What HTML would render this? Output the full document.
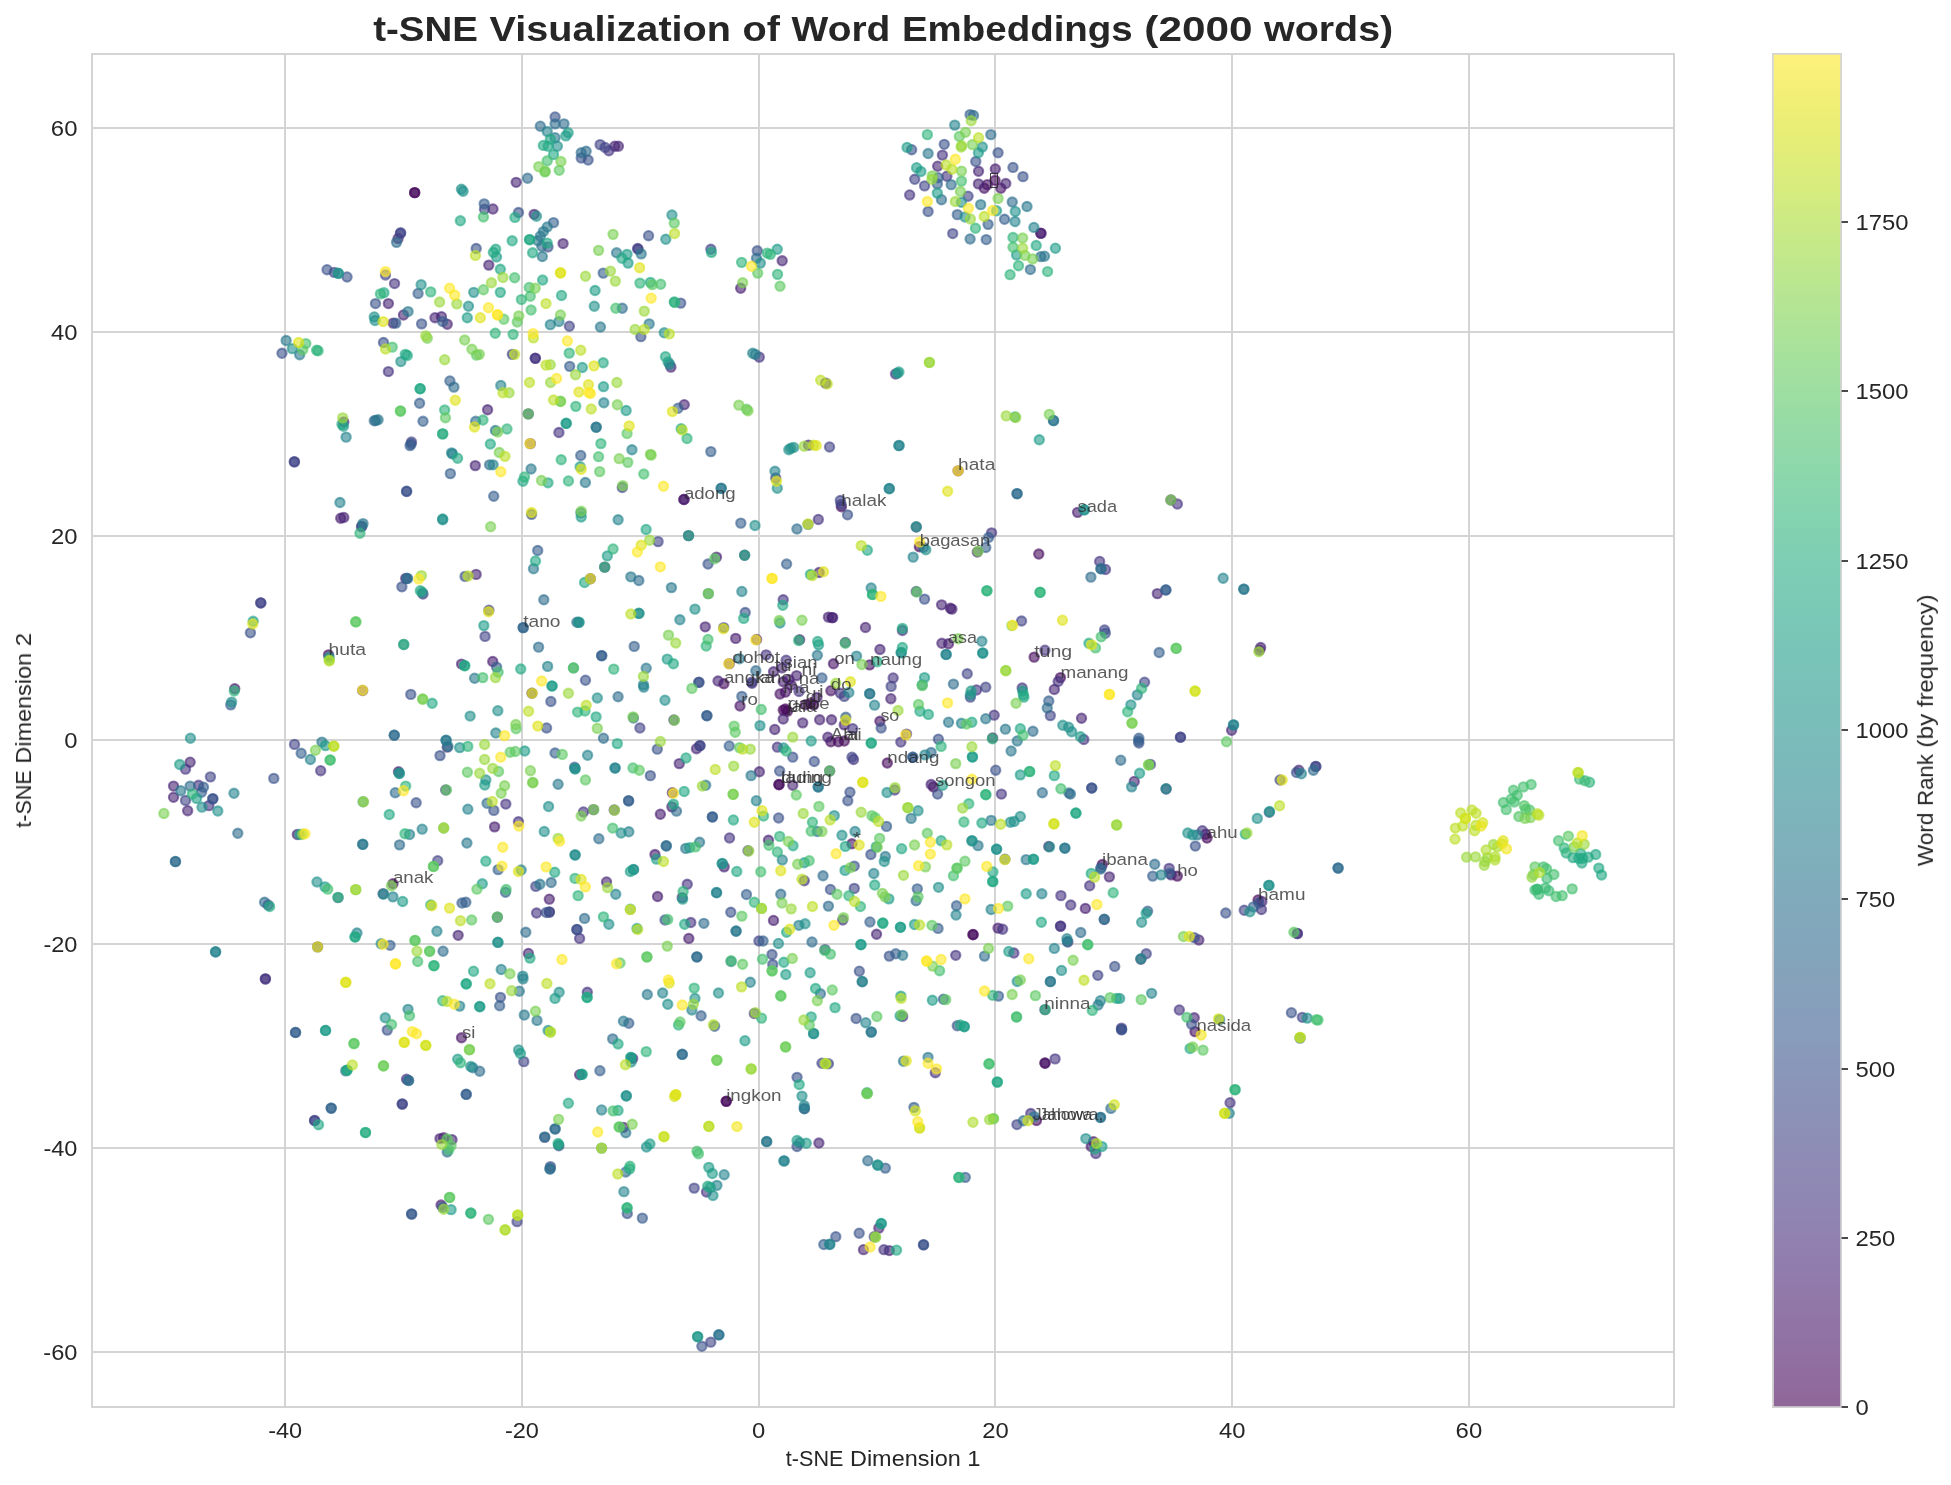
<!DOCTYPE html>
<html lang="en"><head><meta charset="utf-8"><title>t-SNE Visualization of Word Embeddings (2000 words)</title>
<style>html,body{margin:0;padding:0;background:#fff}body{width:1951px;height:1485px;overflow:hidden}svg{display:block}text{font-family:"Liberation Sans",sans-serif;fill:#262626}</style></head><body>
<svg width="1951" height="1485" viewBox="0 0 1951 1485">
<rect width="1951" height="1485" fill="#fff"/>
<defs><filter id="nf" x="0" y="0" width="1" height="1"><feOffset dx="0" dy="0"/></filter><linearGradient id="vg" x1="0" y1="1" x2="0" y2="0"><stop offset="0.0000" stop-color="#8f6798"/><stop offset="0.0312" stop-color="#916ea0"/><stop offset="0.0625" stop-color="#9174a6"/><stop offset="0.0938" stop-color="#917bac"/><stop offset="0.1250" stop-color="#9181b0"/><stop offset="0.1562" stop-color="#8f87b3"/><stop offset="0.1875" stop-color="#8e8cb6"/><stop offset="0.2188" stop-color="#8b92b8"/><stop offset="0.2500" stop-color="#8997b9"/><stop offset="0.2812" stop-color="#879dbb"/><stop offset="0.3125" stop-color="#85a1bb"/><stop offset="0.3438" stop-color="#82a6bb"/><stop offset="0.3750" stop-color="#80aabb"/><stop offset="0.4062" stop-color="#7fafbb"/><stop offset="0.4375" stop-color="#7db4bb"/><stop offset="0.4688" stop-color="#7bb8bb"/><stop offset="0.5000" stop-color="#7abdba"/><stop offset="0.5312" stop-color="#79c1b9"/><stop offset="0.5625" stop-color="#79c5b8"/><stop offset="0.5938" stop-color="#7acab6"/><stop offset="0.6250" stop-color="#7dceb3"/><stop offset="0.6562" stop-color="#83d3b0"/><stop offset="0.6875" stop-color="#8bd7ac"/><stop offset="0.7188" stop-color="#94daa7"/><stop offset="0.7500" stop-color="#9ddea1"/><stop offset="0.7812" stop-color="#a8e29b"/><stop offset="0.8125" stop-color="#b3e594"/><stop offset="0.8438" stop-color="#bfe88c"/><stop offset="0.8750" stop-color="#ccea84"/><stop offset="0.9062" stop-color="#d9ec7c"/><stop offset="0.9375" stop-color="#e6ee76"/><stop offset="0.9688" stop-color="#f2ef76"/><stop offset="1.0000" stop-color="#fef17c"/></linearGradient></defs>
<g fill="#d4d4d4"><rect x="284" y="53" width="2" height="1355"/><rect x="521" y="53" width="2" height="1355"/><rect x="758" y="53" width="2" height="1355"/><rect x="994" y="53" width="2" height="1355"/><rect x="1231" y="53" width="2" height="1355"/><rect x="1468" y="53" width="2" height="1355"/><rect x="91" y="1351" width="1584" height="2"/><rect x="91" y="1147" width="1584" height="2"/><rect x="91" y="943" width="1584" height="2"/><rect x="91" y="739" width="1584" height="2"/><rect x="91" y="535" width="1584" height="2"/><rect x="91" y="331" width="1584" height="2"/><rect x="91" y="127" width="1584" height="2"/></g>
<g fill-opacity=".6" stroke-opacity=".6" stroke-width="2.083">
<g fill="#440154" stroke="#440154"><circle cx="414.69" cy="192.65" r="4.658"/></g>
<g fill="#46085c" stroke="#46085c"><circle cx="995" cy="180.34" r="4.658"/><circle cx="683.93" cy="499.45" r="4.658"/><circle cx="841.39" cy="506.68" r="4.658"/><circle cx="958.1" cy="470.83" r="4.658"/><circle cx="919.35" cy="546.68" r="4.658"/><circle cx="328.52" cy="654.85" r="4.658"/><circle cx="887.32" cy="763.01" r="4.658"/><circle cx="785.41" cy="709.03" r="4.658"/><circle cx="787.56" cy="711.19" r="4.658"/><circle cx="783.25" cy="710.11" r="4.658"/><circle cx="392.95" cy="883.79" r="4.658"/><circle cx="778.91" cy="784.55" r="4.658"/><circle cx="1207" cy="838.09" r="4.658"/><circle cx="1102.28" cy="864.56" r="4.658"/><circle cx="1177.32" cy="876.1" r="4.658"/><circle cx="1258.05" cy="899.94" r="4.658"/><circle cx="726.17" cy="1101.19" r="4.658"/><circle cx="726.32" cy="1101.35" r="4.658"/></g>
<g fill="#460b5e" stroke="#460b5e"><circle cx="414.69" cy="192.65" r="4.658"/><circle cx="723.86" cy="683.77" r="4.658"/><circle cx="1038.78" cy="554.07" r="4.658"/><circle cx="1034.16" cy="657.15" r="4.658"/><circle cx="830.88" cy="741.78" r="4.658"/><circle cx="838.42" cy="741.78" r="4.658"/><circle cx="844.26" cy="741.01" r="4.658"/><circle cx="810.52" cy="703.29" r="4.658"/><circle cx="813.75" cy="705.08" r="4.658"/><circle cx="805.5" cy="704.73" r="4.658"/><circle cx="1060.46" cy="677.62" r="4.658"/><circle cx="779.06" cy="784.7" r="4.658"/><circle cx="933.45" cy="786.86" r="4.658"/><circle cx="972.96" cy="934.56" r="4.658"/><circle cx="973.12" cy="934.72" r="4.658"/><circle cx="1036.47" cy="1120.43" r="4.658"/><circle cx="1195" cy="1031.65" r="4.658"/></g>
<g fill="#471365" stroke="#471365"><circle cx="987.32" cy="184.65" r="4.658"/><circle cx="984.24" cy="188.19" r="4.658"/><circle cx="1000.85" cy="188.19" r="4.658"/><circle cx="740.01" cy="705.93" r="4.658"/><circle cx="833.5" cy="663.77" r="4.658"/><circle cx="869.63" cy="664.85" r="4.658"/><circle cx="830.88" cy="690.69" r="4.658"/><circle cx="879.93" cy="721.31" r="4.658"/><circle cx="780.02" cy="693.96" r="4.658"/><circle cx="785.41" cy="692.16" r="4.658"/><circle cx="851.95" cy="843.79" r="4.658"/><circle cx="1205.77" cy="834.25" r="4.658"/><circle cx="461.53" cy="1037.8" r="4.658"/><circle cx="1044.93" cy="1063.04" r="4.658"/><circle cx="1045.08" cy="1063.19" r="4.658"/></g>
<g fill="#481d6f" stroke="#481d6f"><circle cx="740.67" cy="288.2" r="4.658"/><circle cx="995.31" cy="168.96" r="4.658"/><circle cx="1040.83" cy="233.12" r="4.658"/><circle cx="1040.98" cy="233.42" r="4.658"/><circle cx="340.72" cy="518.22" r="4.658"/><circle cx="683.93" cy="499.45" r="4.658"/><circle cx="1077.58" cy="512.37" r="4.658"/><circle cx="234.73" cy="688.69" r="4.658"/><circle cx="735.7" cy="638.38" r="4.658"/><circle cx="492.75" cy="661.46" r="4.658"/><circle cx="729.24" cy="663.62" r="4.658"/><circle cx="950.36" cy="608.23" r="4.658"/><circle cx="831.96" cy="617.61" r="4.658"/><circle cx="948.51" cy="643.77" r="4.658"/><circle cx="783.25" cy="681.75" r="4.658"/><circle cx="791.15" cy="684.98" r="4.658"/><circle cx="788.99" cy="679.59" r="4.658"/><circle cx="816.98" cy="697.55" r="4.658"/><circle cx="660.35" cy="814.24" r="4.658"/><circle cx="494.59" cy="826.86" r="4.658"/><circle cx="654.97" cy="854.56" r="4.658"/><circle cx="657.59" cy="896.56" r="4.658"/><circle cx="549.33" cy="899.17" r="4.658"/><circle cx="688.8" cy="938.41" r="4.658"/><circle cx="773.53" cy="920.41" r="4.658"/><circle cx="998.03" cy="928.1" r="4.658"/><circle cx="1171.17" cy="874.86" r="4.658"/><circle cx="1085.37" cy="908.41" r="4.658"/><circle cx="443.7" cy="1137.81" r="4.658"/><circle cx="441.08" cy="1205.05" r="4.658"/><circle cx="1093.52" cy="1141.66" r="4.658"/><circle cx="1091.21" cy="1146.58" r="4.658"/></g>
<g fill="#482475" stroke="#482475"><circle cx="516.17" cy="182.34" r="4.658"/><circle cx="492.95" cy="208.96" r="4.658"/><circle cx="534.16" cy="214.34" r="4.658"/><circle cx="398.08" cy="238.5" r="4.658"/><circle cx="488.8" cy="265.12" r="4.658"/><circle cx="388.39" cy="303.58" r="4.658"/><circle cx="393.16" cy="323.12" r="4.658"/><circle cx="403.46" cy="314.97" r="4.658"/><circle cx="434.98" cy="317.74" r="4.658"/><circle cx="441.44" cy="316.66" r="4.658"/><circle cx="447.28" cy="324.2" r="4.658"/><circle cx="614.74" cy="146.18" r="4.658"/><circle cx="618.43" cy="146.18" r="4.658"/><circle cx="563.07" cy="243.58" r="4.658"/><circle cx="782.19" cy="260.81" r="4.658"/><circle cx="937.65" cy="166.19" r="4.658"/><circle cx="978.55" cy="171.26" r="4.658"/><circle cx="978.4" cy="183.88" r="4.658"/><circle cx="1005.77" cy="183.57" r="4.658"/><circle cx="487.57" cy="409.75" r="4.658"/><circle cx="528.32" cy="413.9" r="4.658"/><circle cx="343.8" cy="422.06" r="4.658"/><circle cx="530.32" cy="443.6" r="4.658"/><circle cx="475.27" cy="465.6" r="4.658"/><circle cx="343.8" cy="517.45" r="4.658"/><circle cx="361.48" cy="526.68" r="4.658"/><circle cx="670.86" cy="367.13" r="4.658"/><circle cx="825.71" cy="383.13" r="4.658"/><circle cx="684.24" cy="404.67" r="4.658"/><circle cx="808.48" cy="445.13" r="4.658"/><circle cx="688.55" cy="535.6" r="4.658"/><circle cx="916.27" cy="526.99" r="4.658"/><circle cx="977.32" cy="552.07" r="4.658"/><circle cx="1170.91" cy="500.06" r="4.658"/><circle cx="362.66" cy="690.54" r="4.658"/><circle cx="398.49" cy="771.78" r="4.658"/><circle cx="447.23" cy="747.16" r="4.658"/><circle cx="190.13" cy="762.24" r="4.658"/><circle cx="405.72" cy="578.38" r="4.658"/><circle cx="604.69" cy="567.15" r="4.658"/><circle cx="716.48" cy="557.14" r="4.658"/><circle cx="744.62" cy="555.3" r="4.658"/><circle cx="476.14" cy="574.38" r="4.658"/><circle cx="590.39" cy="578.68" r="4.658"/><circle cx="705.25" cy="626.84" r="4.658"/><circle cx="461.53" cy="664.08" r="4.658"/><circle cx="718.02" cy="681" r="4.658"/><circle cx="531.96" cy="693.31" r="4.658"/><circle cx="696.49" cy="748.7" r="4.658"/><circle cx="679.27" cy="763.62" r="4.658"/><circle cx="819.2" cy="572.53" r="4.658"/><circle cx="941.6" cy="604.84" r="4.658"/><circle cx="951.9" cy="609.15" r="4.658"/><circle cx="828.42" cy="617.15" r="4.658"/><circle cx="832.73" cy="617.61" r="4.658"/><circle cx="865.48" cy="627.46" r="4.658"/><circle cx="756.61" cy="639.46" r="4.658"/><circle cx="799.67" cy="639.77" r="4.658"/><circle cx="941.9" cy="643.31" r="4.658"/><circle cx="879.93" cy="649.46" r="4.658"/><circle cx="773.53" cy="671.77" r="4.658"/><circle cx="781.98" cy="667.92" r="4.658"/><circle cx="796.59" cy="675.62" r="4.658"/><circle cx="890.85" cy="698.7" r="4.658"/><circle cx="783.21" cy="719" r="4.658"/><circle cx="802.74" cy="722.85" r="4.658"/><circle cx="819.66" cy="719.77" r="4.658"/><circle cx="831.5" cy="719.77" r="4.658"/><circle cx="774.76" cy="729.47" r="4.658"/><circle cx="844.26" cy="724.85" r="4.658"/><circle cx="827.81" cy="737.16" r="4.658"/><circle cx="992.65" cy="737.93" r="4.658"/><circle cx="759.38" cy="771.78" r="4.658"/><circle cx="752.04" cy="683.18" r="4.658"/><circle cx="1157.33" cy="593.61" r="4.658"/><circle cx="1260.66" cy="647.46" r="4.658"/><circle cx="1259.59" cy="650.23" r="4.658"/><circle cx="1054.31" cy="689.46" r="4.658"/><circle cx="1081.52" cy="718.24" r="4.658"/><circle cx="1231.6" cy="730.24" r="4.658"/><circle cx="1298.8" cy="770.24" r="4.658"/><circle cx="173.53" cy="786.09" r="4.658"/><circle cx="173.53" cy="797.32" r="4.658"/><circle cx="187.67" cy="810.71" r="4.658"/><circle cx="297.31" cy="834.55" r="4.658"/><circle cx="672.35" cy="792.7" r="4.658"/><circle cx="671.89" cy="806.86" r="4.658"/><circle cx="724.17" cy="866.86" r="4.658"/><circle cx="606.54" cy="881.94" r="4.658"/><circle cx="458.15" cy="935.33" r="4.658"/><circle cx="528.42" cy="953.49" r="4.658"/><circle cx="792.75" cy="785.32" r="4.658"/><circle cx="931.14" cy="784.55" r="4.658"/><circle cx="768.45" cy="840.25" r="4.658"/><circle cx="1048.77" cy="846.55" r="4.658"/><circle cx="876.55" cy="934.25" r="4.658"/><circle cx="1134.27" cy="781.47" r="4.658"/><circle cx="1166.1" cy="789.01" r="4.658"/><circle cx="1109.36" cy="876.87" r="4.658"/><circle cx="1261.89" cy="901.48" r="4.658"/><circle cx="1198.85" cy="939.95" r="4.658"/><circle cx="1140.88" cy="959.18" r="4.658"/><circle cx="440.01" cy="1138.58" r="4.658"/><circle cx="632.68" cy="1058.42" r="4.658"/><circle cx="579.63" cy="1074.73" r="4.658"/><circle cx="623.45" cy="1127.35" r="4.658"/><circle cx="452" cy="1139.66" r="4.658"/><circle cx="818.89" cy="1143.04" r="4.658"/><circle cx="1194.23" cy="1017.8" r="4.658"/><circle cx="878.86" cy="1228.13" r="4.658"/><circle cx="863.48" cy="1249.67" r="4.658"/><circle cx="889.31" cy="1250.59" r="4.658"/></g>
<g fill="#463480" stroke="#463480"><circle cx="394.54" cy="283.58" r="4.658"/><circle cx="608.89" cy="150.8" r="4.658"/><circle cx="637.65" cy="248.5" r="4.658"/><circle cx="942.42" cy="155.11" r="4.658"/><circle cx="946.87" cy="176.19" r="4.658"/><circle cx="909.66" cy="194.96" r="4.658"/><circle cx="388.39" cy="371.59" r="4.658"/><circle cx="535.24" cy="358.2" r="4.658"/><circle cx="535.39" cy="358.36" r="4.658"/><circle cx="759.28" cy="357.13" r="4.658"/><circle cx="558.92" cy="432.52" r="4.658"/><circle cx="818.33" cy="519.45" r="4.658"/><circle cx="895.52" cy="374.05" r="4.658"/><circle cx="991.62" cy="532.83" r="4.658"/><circle cx="1177.37" cy="504.06" r="4.658"/><circle cx="320.68" cy="770.7" r="4.658"/><circle cx="185.52" cy="769.16" r="4.658"/><circle cx="422.94" cy="594.07" r="4.658"/><circle cx="673.89" cy="719.93" r="4.658"/><circle cx="783.21" cy="599.76" r="4.658"/><circle cx="902.38" cy="630.54" r="4.658"/><circle cx="845.34" cy="642.54" r="4.658"/><circle cx="766.15" cy="654.85" r="4.658"/><circle cx="786.14" cy="660.23" r="4.658"/><circle cx="1044.93" cy="650.23" r="4.658"/><circle cx="840.42" cy="693.31" r="4.658"/><circle cx="893.16" cy="677.92" r="4.658"/><circle cx="976.5" cy="689.93" r="4.658"/><circle cx="1022.17" cy="687.93" r="4.658"/><circle cx="994.18" cy="715.16" r="4.658"/><circle cx="852.72" cy="728.7" r="4.658"/><circle cx="906.54" cy="734.08" r="4.658"/><circle cx="900.85" cy="742.08" r="4.658"/><circle cx="777.37" cy="747.16" r="4.658"/><circle cx="853.49" cy="759.47" r="4.658"/><circle cx="829.65" cy="771.01" r="4.658"/><circle cx="799.04" cy="691.44" r="4.658"/><circle cx="1099.67" cy="561.45" r="4.658"/><circle cx="1105.51" cy="569.45" r="4.658"/><circle cx="1058.15" cy="681.46" r="4.658"/><circle cx="1083.83" cy="739.47" r="4.658"/><circle cx="198.59" cy="785.32" r="4.658"/><circle cx="208.89" cy="805.63" r="4.658"/><circle cx="445.7" cy="789.93" r="4.658"/><circle cx="383.11" cy="893.79" r="4.658"/><circle cx="317.61" cy="946.87" r="4.658"/><circle cx="265.33" cy="978.87" r="4.658"/><circle cx="265.48" cy="979.03" r="4.658"/><circle cx="505.82" cy="804.09" r="4.658"/><circle cx="583.47" cy="811.94" r="4.658"/><circle cx="593.47" cy="809.63" r="4.658"/><circle cx="614.22" cy="809.94" r="4.658"/><circle cx="518.43" cy="821.78" r="4.658"/><circle cx="729.55" cy="837.94" r="4.658"/><circle cx="687.26" cy="884.25" r="4.658"/><circle cx="682.19" cy="897.64" r="4.658"/><circle cx="536.57" cy="913.02" r="4.658"/><circle cx="690.8" cy="922.56" r="4.658"/><circle cx="579.63" cy="938.41" r="4.658"/><circle cx="587.32" cy="992.26" r="4.658"/><circle cx="894.7" cy="789.93" r="4.658"/><circle cx="1001.41" cy="794.09" r="4.658"/><circle cx="804.28" cy="880.71" r="4.658"/><circle cx="842.72" cy="919.95" r="4.658"/><circle cx="1002.64" cy="929.18" r="4.658"/><circle cx="955.74" cy="955.33" r="4.658"/><circle cx="1013.87" cy="953.03" r="4.658"/><circle cx="1202.38" cy="830.71" r="4.658"/><circle cx="1169.17" cy="868.4" r="4.658"/><circle cx="1089.67" cy="885.79" r="4.658"/><circle cx="1261.43" cy="909.48" r="4.658"/><circle cx="1060.92" cy="895.64" r="4.658"/><circle cx="1070.76" cy="905.02" r="4.658"/><circle cx="1104.28" cy="919.48" r="4.658"/><circle cx="1060.46" cy="926.1" r="4.658"/><circle cx="1060.61" cy="926.25" r="4.658"/><circle cx="1067.84" cy="941.95" r="4.658"/><circle cx="1297.26" cy="933.49" r="4.658"/><circle cx="1297.41" cy="933.64" r="4.658"/><circle cx="406.48" cy="1079.19" r="4.658"/><circle cx="544.72" cy="1137.35" r="4.658"/><circle cx="706.48" cy="1191.97" r="4.658"/><circle cx="754.31" cy="1013.49" r="4.658"/><circle cx="902.69" cy="1016.57" r="4.658"/><circle cx="1044.93" cy="1009.65" r="4.658"/><circle cx="935.29" cy="1072.73" r="4.658"/><circle cx="1030.78" cy="1113.5" r="4.658"/><circle cx="1179.32" cy="1009.95" r="4.658"/><circle cx="1121.5" cy="1028.11" r="4.658"/><circle cx="1055.08" cy="1058.88" r="4.658"/><circle cx="1230.06" cy="1102.73" r="4.658"/><circle cx="1095.82" cy="1153.51" r="4.658"/><circle cx="874.25" cy="1236.74" r="4.658"/><circle cx="883.93" cy="1249.67" r="4.658"/></g>
<g fill="#414487" stroke="#414487"><circle cx="484.5" cy="209.27" r="4.658"/><circle cx="400.69" cy="232.81" r="4.658"/><circle cx="400.39" cy="233.42" r="4.658"/><circle cx="334.27" cy="272.35" r="4.658"/><circle cx="385.47" cy="274.96" r="4.658"/><circle cx="600.13" cy="144.65" r="4.658"/><circle cx="605.05" cy="147.42" r="4.658"/><circle cx="638.11" cy="249.27" r="4.658"/><circle cx="569.38" cy="326.2" r="4.658"/><circle cx="710.84" cy="249.27" r="4.658"/><circle cx="914.74" cy="179.26" r="4.658"/><circle cx="924.58" cy="185.88" r="4.658"/><circle cx="968.09" cy="196.19" r="4.658"/><circle cx="952.72" cy="233.58" r="4.658"/><circle cx="512.33" cy="354.36" r="4.658"/><circle cx="411.46" cy="442.06" r="4.658"/><circle cx="294.29" cy="461.75" r="4.658"/><circle cx="294.44" cy="461.9" r="4.658"/><circle cx="622.27" cy="487.45" r="4.658"/><circle cx="829.55" cy="446.98" r="4.658"/><circle cx="775.73" cy="477.91" r="4.658"/><circle cx="840.31" cy="500.52" r="4.658"/><circle cx="841.08" cy="504.37" r="4.658"/><circle cx="658.1" cy="541.6" r="4.658"/><circle cx="260.71" cy="602.84" r="4.658"/><circle cx="260.87" cy="602.99" r="4.658"/><circle cx="294.54" cy="744.39" r="4.658"/><circle cx="210.43" cy="776.86" r="4.658"/><circle cx="488.9" cy="610.23" r="4.658"/><circle cx="485.06" cy="636.38" r="4.658"/><circle cx="723.71" cy="627.61" r="4.658"/><circle cx="639.9" cy="727.93" r="4.658"/><circle cx="699.87" cy="745.62" r="4.658"/><circle cx="700.03" cy="745.78" r="4.658"/><circle cx="916.22" cy="591.45" r="4.658"/><circle cx="1021.55" cy="621" r="4.658"/><circle cx="844.26" cy="696.39" r="4.658"/><circle cx="891.16" cy="686.39" r="4.658"/><circle cx="967.27" cy="673.77" r="4.658"/><circle cx="985.73" cy="687.16" r="4.658"/><circle cx="970.35" cy="697.16" r="4.658"/><circle cx="1050.31" cy="715.62" r="4.658"/><circle cx="851.95" cy="757.16" r="4.658"/><circle cx="751.68" cy="682.11" r="4.658"/><circle cx="1104.59" cy="629.92" r="4.658"/><circle cx="1144.57" cy="682.23" r="4.658"/><circle cx="1180.4" cy="737.16" r="4.658"/><circle cx="1180.55" cy="737.31" r="4.658"/><circle cx="1150.41" cy="764.39" r="4.658"/><circle cx="1315.71" cy="766.39" r="4.658"/><circle cx="1315.86" cy="766.55" r="4.658"/><circle cx="185.52" cy="800.4" r="4.658"/><circle cx="437.7" cy="860.71" r="4.658"/><circle cx="268.09" cy="905.02" r="4.658"/><circle cx="748" cy="850.71" r="4.658"/><circle cx="535.8" cy="886.4" r="4.658"/><circle cx="549.33" cy="911.95" r="4.658"/><circle cx="549.49" cy="912.1" r="4.658"/><circle cx="497.36" cy="917.18" r="4.658"/><circle cx="576.86" cy="929.49" r="4.658"/><circle cx="854.26" cy="888.4" r="4.658"/><circle cx="758.92" cy="941.02" r="4.658"/><circle cx="825.04" cy="949.64" r="4.658"/><circle cx="1280.04" cy="779.93" r="4.658"/><circle cx="1269.27" cy="812.24" r="4.658"/><circle cx="1244.21" cy="910.25" r="4.658"/><circle cx="1146.26" cy="953.8" r="4.658"/><circle cx="1097.82" cy="975.34" r="4.658"/><circle cx="402.18" cy="1103.96" r="4.658"/><circle cx="402.33" cy="1104.12" r="4.658"/><circle cx="314.53" cy="1120.43" r="4.658"/><circle cx="314.69" cy="1120.58" r="4.658"/><circle cx="523.81" cy="1061.65" r="4.658"/><circle cx="558.87" cy="1145.81" r="4.658"/><circle cx="694.18" cy="1188.12" r="4.658"/><circle cx="517.04" cy="1221.67" r="4.658"/><circle cx="821.96" cy="1063.19" r="4.658"/><circle cx="828.42" cy="1063.8" r="4.658"/><circle cx="1016.94" cy="1124.58" r="4.658"/><circle cx="1302.33" cy="1017.34" r="4.658"/><circle cx="710.79" cy="1342.14" r="4.658"/></g>
<g fill="#3b528b" stroke="#3b528b"><circle cx="518.48" cy="212.5" r="4.658"/><circle cx="548" cy="246.96" r="4.658"/><circle cx="476.19" cy="248.5" r="4.658"/><circle cx="327.04" cy="269.73" r="4.658"/><circle cx="347.03" cy="276.97" r="4.658"/><circle cx="375.48" cy="303.58" r="4.658"/><circle cx="421.61" cy="323.89" r="4.658"/><circle cx="555.08" cy="116.95" r="4.658"/><circle cx="581.22" cy="158.03" r="4.658"/><circle cx="588.14" cy="160.03" r="4.658"/><circle cx="648.57" cy="235.73" r="4.658"/><circle cx="680.7" cy="303.12" r="4.658"/><circle cx="757.28" cy="250.81" r="4.658"/><circle cx="911.66" cy="149.72" r="4.658"/><circle cx="944.26" cy="144.34" r="4.658"/><circle cx="998.08" cy="152.8" r="4.658"/><circle cx="975.78" cy="161.57" r="4.658"/><circle cx="1012.99" cy="167.42" r="4.658"/><circle cx="1022.99" cy="176.65" r="4.658"/><circle cx="928.11" cy="211.57" r="4.658"/><circle cx="281.98" cy="353.28" r="4.658"/><circle cx="383.47" cy="342.51" r="4.658"/><circle cx="411.15" cy="444.06" r="4.658"/><circle cx="406.54" cy="491.29" r="4.658"/><circle cx="406.69" cy="491.45" r="4.658"/><circle cx="531.55" cy="514.37" r="4.658"/><circle cx="640.88" cy="336.66" r="4.658"/><circle cx="847.54" cy="514.83" r="4.658"/><circle cx="250.41" cy="632.84" r="4.658"/><circle cx="410.79" cy="694.39" r="4.658"/><circle cx="440.01" cy="755.62" r="4.658"/><circle cx="273.78" cy="778.39" r="4.658"/><circle cx="401.87" cy="586.84" r="4.658"/><circle cx="708.02" cy="564.07" r="4.658"/><circle cx="465.07" cy="576.38" r="4.658"/><circle cx="745.23" cy="612.53" r="4.658"/><circle cx="523.19" cy="627.61" r="4.658"/><circle cx="585.47" cy="680.23" r="4.658"/><circle cx="698.8" cy="682.23" r="4.658"/><circle cx="698.95" cy="682.39" r="4.658"/><circle cx="550.87" cy="701.46" r="4.658"/><circle cx="546.57" cy="727.93" r="4.658"/><circle cx="657.28" cy="749.16" r="4.658"/><circle cx="650.36" cy="775.63" r="4.658"/><circle cx="924.53" cy="599.15" r="4.658"/><circle cx="881.16" cy="727.93" r="4.658"/><circle cx="938.37" cy="739.16" r="4.658"/><circle cx="792.75" cy="757.16" r="4.658"/><circle cx="814.28" cy="761.47" r="4.658"/><circle cx="995.72" cy="770.24" r="4.658"/><circle cx="779.68" cy="771.01" r="4.658"/><circle cx="1105.36" cy="633.3" r="4.658"/><circle cx="1138.88" cy="743.01" r="4.658"/><circle cx="1296.49" cy="772.55" r="4.658"/><circle cx="212.74" cy="798.7" r="4.658"/><circle cx="212.89" cy="798.86" r="4.658"/><circle cx="416.17" cy="802.7" r="4.658"/><circle cx="493.82" cy="810.4" r="4.658"/><circle cx="546.26" cy="912.56" r="4.658"/><circle cx="730.78" cy="912.25" r="4.658"/><circle cx="664.97" cy="919.95" r="4.658"/><circle cx="577.01" cy="929.64" r="4.658"/><circle cx="500.44" cy="997.34" r="4.658"/><circle cx="849.95" cy="792.24" r="4.658"/><circle cx="937.6" cy="794.09" r="4.658"/><circle cx="847.8" cy="800.7" r="4.658"/><circle cx="778.6" cy="817.94" r="4.658"/><circle cx="870.86" cy="854.56" r="4.658"/><circle cx="854.26" cy="866.09" r="4.658"/><circle cx="830.42" cy="889.48" r="4.658"/><circle cx="771.99" cy="954.56" r="4.658"/><circle cx="772.76" cy="964.57" r="4.658"/><circle cx="889.31" cy="956.1" r="4.658"/><circle cx="859.33" cy="971.18" r="4.658"/><circle cx="862.25" cy="981.8" r="4.658"/><circle cx="1091.67" cy="787.93" r="4.658"/><circle cx="1091.83" cy="788.09" r="4.658"/><circle cx="1195.31" cy="846.09" r="4.658"/><circle cx="1101.21" cy="867.63" r="4.658"/><circle cx="1258.82" cy="903.02" r="4.658"/><circle cx="1225.76" cy="913.02" r="4.658"/><circle cx="1194.23" cy="937.64" r="4.658"/><circle cx="1114.74" cy="966.41" r="4.658"/><circle cx="387.26" cy="1030.11" r="4.658"/><circle cx="550.41" cy="1166.58" r="4.658"/><circle cx="627.29" cy="1213.51" r="4.658"/><circle cx="856.1" cy="1018.57" r="4.658"/><circle cx="957.28" cy="1025.8" r="4.658"/><circle cx="797.05" cy="1077.34" r="4.658"/><circle cx="797.05" cy="1146.58" r="4.658"/><circle cx="1191.62" cy="1024.26" r="4.658"/><circle cx="1121.5" cy="1029.65" r="4.658"/><circle cx="1121.66" cy="1029.8" r="4.658"/><circle cx="1291.42" cy="1012.72" r="4.658"/><circle cx="701.87" cy="1346.29" r="4.658"/><circle cx="859.18" cy="1233.2" r="4.658"/><circle cx="835.8" cy="1236.74" r="4.658"/><circle cx="923.45" cy="1244.74" r="4.658"/><circle cx="923.6" cy="1244.9" r="4.658"/></g>
<g fill="#375a8c" stroke="#375a8c"><circle cx="411.56" cy="1213.97" r="4.658"/><circle cx="411.71" cy="1214.13" r="4.658"/><circle cx="642.36" cy="1218.13" r="4.658"/></g>
<g fill="#355f8d" stroke="#355f8d"><circle cx="484.19" cy="203.88" r="4.658"/><circle cx="418.07" cy="293.43" r="4.658"/><circle cx="395.77" cy="323.12" r="4.658"/><circle cx="442.67" cy="321.58" r="4.658"/><circle cx="553.54" cy="222.65" r="4.658"/><circle cx="603.2" cy="273.12" r="4.658"/><circle cx="970.09" cy="114.64" r="4.658"/><circle cx="938.11" cy="177.73" r="4.658"/><circle cx="937.34" cy="183.88" r="4.658"/><circle cx="957.33" cy="214.65" r="4.658"/><circle cx="1004.54" cy="219.27" r="4.658"/><circle cx="988.08" cy="224.35" r="4.658"/><circle cx="986.24" cy="239.58" r="4.658"/><circle cx="449.9" cy="380.97" r="4.658"/><circle cx="419.61" cy="403.28" r="4.658"/><circle cx="422.99" cy="421.29" r="4.658"/><circle cx="410.07" cy="445.6" r="4.658"/><circle cx="450.36" cy="473.6" r="4.658"/><circle cx="493.72" cy="496.22" r="4.658"/><circle cx="361.94" cy="525.91" r="4.658"/><circle cx="537.7" cy="550.53" r="4.658"/><circle cx="569.68" cy="366.36" r="4.658"/><circle cx="678.09" cy="408.21" r="4.658"/><circle cx="710.84" cy="451.6" r="4.658"/><circle cx="580.75" cy="455.44" r="4.658"/><circle cx="740.83" cy="523.14" r="4.658"/><circle cx="988.55" cy="537.45" r="4.658"/><circle cx="985.78" cy="547.45" r="4.658"/><circle cx="923.5" cy="547.45" r="4.658"/><circle cx="230.73" cy="704.85" r="4.658"/><circle cx="301.15" cy="753.32" r="4.658"/><circle cx="634.21" cy="646.38" r="4.658"/><circle cx="601.62" cy="655.61" r="4.658"/><circle cx="601.77" cy="655.77" r="4.658"/><circle cx="496.59" cy="667.15" r="4.658"/><circle cx="741.85" cy="696.39" r="4.658"/><circle cx="706.79" cy="715.62" r="4.658"/><circle cx="706.95" cy="715.77" r="4.658"/><circle cx="729.24" cy="745.93" r="4.658"/><circle cx="555.02" cy="753.01" r="4.658"/><circle cx="574.55" cy="767.16" r="4.658"/><circle cx="786.6" cy="564.07" r="4.658"/><circle cx="821.96" cy="677.92" r="4.658"/><circle cx="1048.77" cy="701" r="4.658"/><circle cx="845.8" cy="717.16" r="4.658"/><circle cx="912.69" cy="757.16" r="4.658"/><circle cx="912.84" cy="757.32" r="4.658"/><circle cx="1165.79" cy="589.92" r="4.658"/><circle cx="1165.94" cy="590.07" r="4.658"/><circle cx="1159.18" cy="652.54" r="4.658"/><circle cx="1138.88" cy="738.24" r="4.658"/><circle cx="1138.57" cy="741.01" r="4.658"/><circle cx="203.51" cy="787.16" r="4.658"/><circle cx="201.51" cy="792.24" r="4.658"/><circle cx="338.06" cy="897.64" r="4.658"/><circle cx="390.03" cy="945.33" r="4.658"/><circle cx="628.52" cy="800.7" r="4.658"/><circle cx="628.68" cy="800.86" r="4.658"/><circle cx="712.33" cy="816.86" r="4.658"/><circle cx="712.48" cy="817.01" r="4.658"/><circle cx="498.13" cy="869.63" r="4.658"/><circle cx="505.51" cy="892.25" r="4.658"/><circle cx="746.46" cy="894.56" r="4.658"/><circle cx="461.99" cy="903.02" r="4.658"/><circle cx="465.84" cy="902.25" r="4.658"/><circle cx="886.55" cy="826.4" r="4.658"/><circle cx="1004.95" cy="859.17" r="4.658"/><circle cx="917.3" cy="888.87" r="4.658"/><circle cx="956.51" cy="905.79" r="4.658"/><circle cx="869.94" cy="921.95" r="4.658"/><circle cx="938.06" cy="928.41" r="4.658"/><circle cx="763.07" cy="941.02" r="4.658"/><circle cx="895.77" cy="953.8" r="4.658"/><circle cx="943.44" cy="999.18" r="4.658"/><circle cx="998.49" cy="996.11" r="4.658"/><circle cx="1152.72" cy="876.1" r="4.658"/><circle cx="1169.63" cy="873.33" r="4.658"/><circle cx="1253.44" cy="906.87" r="4.658"/><circle cx="1147.64" cy="911.18" r="4.658"/><circle cx="295.46" cy="1032.42" r="4.658"/><circle cx="295.62" cy="1032.57" r="4.658"/><circle cx="442.62" cy="1207.36" r="4.658"/><circle cx="499.67" cy="1005.8" r="4.658"/><circle cx="701.1" cy="1015.8" r="4.658"/><circle cx="628.83" cy="1023.19" r="4.658"/><circle cx="714.63" cy="1026.26" r="4.658"/><circle cx="599.92" cy="1070.73" r="4.658"/><circle cx="466.15" cy="1094.27" r="4.658"/><circle cx="466.3" cy="1094.42" r="4.658"/><circle cx="913.92" cy="1107.35" r="4.658"/><circle cx="885.32" cy="1168.12" r="4.658"/><circle cx="965.28" cy="1177.35" r="4.658"/><circle cx="1300.03" cy="1038.11" r="4.658"/><circle cx="823.81" cy="1244.44" r="4.658"/></g>
<g fill="#32648e" stroke="#32648e"><circle cx="331.14" cy="1108.12" r="4.658"/><circle cx="331.29" cy="1108.27" r="4.658"/></g>
<g fill="#2f6c8e" stroke="#2f6c8e"><circle cx="540.31" cy="126.18" r="4.658"/><circle cx="527.55" cy="178.19" r="4.658"/><circle cx="541.85" cy="246.19" r="4.658"/><circle cx="396.54" cy="242.35" r="4.658"/><circle cx="555.08" cy="123.87" r="4.658"/><circle cx="563.99" cy="123.87" r="4.658"/><circle cx="581.22" cy="152.8" r="4.658"/><circle cx="586.14" cy="151.26" r="4.658"/><circle cx="622.27" cy="308.2" r="4.658"/><circle cx="756.51" cy="258.19" r="4.658"/><circle cx="973.48" cy="115.41" r="4.658"/><circle cx="990.85" cy="134.64" r="4.658"/><circle cx="951.18" cy="184.65" r="4.658"/><circle cx="941.49" cy="199.73" r="4.658"/><circle cx="1012.23" cy="202.04" r="4.658"/><circle cx="970.09" cy="238.96" r="4.658"/><circle cx="1040.83" cy="256.66" r="4.658"/><circle cx="1030.37" cy="269.58" r="4.658"/><circle cx="453.9" cy="387.13" r="4.658"/><circle cx="374.25" cy="420.82" r="4.658"/><circle cx="375.78" cy="420.52" r="4.658"/><circle cx="475.73" cy="421.29" r="4.658"/><circle cx="489.57" cy="464.83" r="4.658"/><circle cx="796.95" cy="528.99" r="4.658"/><circle cx="1053.59" cy="420.67" r="4.658"/><circle cx="1016.99" cy="493.6" r="4.658"/><circle cx="1017.15" cy="493.75" r="4.658"/><circle cx="394.18" cy="735.16" r="4.658"/><circle cx="394.34" cy="735.31" r="4.658"/><circle cx="407.25" cy="578.38" r="4.658"/><circle cx="407.41" cy="578.53" r="4.658"/><circle cx="638.83" cy="580.53" r="4.658"/><circle cx="543.8" cy="599.76" r="4.658"/><circle cx="523.19" cy="627.61" r="4.658"/><circle cx="576.86" cy="622.23" r="4.658"/><circle cx="538.57" cy="647.15" r="4.658"/><circle cx="618.07" cy="696.7" r="4.658"/><circle cx="633.45" cy="717.93" r="4.658"/><circle cx="603.46" cy="738.24" r="4.658"/><circle cx="755.84" cy="670.69" r="4.658"/><circle cx="953.44" cy="684.08" r="4.658"/><circle cx="1047.23" cy="707.93" r="4.658"/><circle cx="931.14" cy="752.55" r="4.658"/><circle cx="1032.93" cy="731.31" r="4.658"/><circle cx="1100.9" cy="568.68" r="4.658"/><circle cx="1101.05" cy="568.84" r="4.658"/><circle cx="1090.9" cy="577.15" r="4.658"/><circle cx="1120.73" cy="760.24" r="4.658"/><circle cx="1313.4" cy="770.24" r="4.658"/><circle cx="190.13" cy="786.09" r="4.658"/><circle cx="237.8" cy="833.32" r="4.658"/><circle cx="175.37" cy="861.48" r="4.658"/><circle cx="175.53" cy="861.63" r="4.658"/><circle cx="395.26" cy="792.7" r="4.658"/><circle cx="399.57" cy="844.86" r="4.658"/><circle cx="264.56" cy="902.25" r="4.658"/><circle cx="443.08" cy="951.18" r="4.658"/><circle cx="487.06" cy="803.32" r="4.658"/><circle cx="676.5" cy="811.17" r="4.658"/><circle cx="598.85" cy="838.71" r="4.658"/><circle cx="666.2" cy="845.79" r="4.658"/><circle cx="666.35" cy="845.94" r="4.658"/><circle cx="551.18" cy="882.56" r="4.658"/><circle cx="584.55" cy="918.41" r="4.658"/><circle cx="703.87" cy="923.33" r="4.658"/><circle cx="525.81" cy="932.25" r="4.658"/><circle cx="696.8" cy="956.87" r="4.658"/><circle cx="696.95" cy="957.03" r="4.658"/><circle cx="1042.31" cy="792.7" r="4.658"/><circle cx="823.04" cy="875.79" r="4.658"/><circle cx="780.75" cy="894.25" r="4.658"/><circle cx="916.07" cy="900.71" r="4.658"/><circle cx="828.42" cy="906.1" r="4.658"/><circle cx="811.97" cy="941.95" r="4.658"/><circle cx="984.5" cy="956.1" r="4.658"/><circle cx="820.43" cy="993.8" r="4.658"/><circle cx="1068.91" cy="793.01" r="4.658"/><circle cx="1070.45" cy="794.09" r="4.658"/><circle cx="1100.44" cy="869.17" r="4.658"/><circle cx="1154.72" cy="864.25" r="4.658"/><circle cx="1338.01" cy="867.94" r="4.658"/><circle cx="1338.16" cy="868.1" r="4.658"/><circle cx="1080.75" cy="932.56" r="4.658"/><circle cx="345.75" cy="1070.88" r="4.658"/><circle cx="408.48" cy="1080.42" r="4.658"/><circle cx="408.64" cy="1080.58" r="4.658"/><circle cx="447.23" cy="1151.97" r="4.658"/><circle cx="612.69" cy="1038.88" r="4.658"/><circle cx="479.68" cy="1071.19" r="4.658"/><circle cx="682.19" cy="1054.27" r="4.658"/><circle cx="682.34" cy="1054.42" r="4.658"/><circle cx="555.02" cy="1128.89" r="4.658"/><circle cx="555.18" cy="1129.04" r="4.658"/><circle cx="549.95" cy="1168.89" r="4.658"/><circle cx="550.1" cy="1169.05" r="4.658"/><circle cx="625.76" cy="1171.97" r="4.658"/><circle cx="804.28" cy="1108.58" r="4.658"/><circle cx="804.43" cy="1108.73" r="4.658"/><circle cx="1023.4" cy="1120.73" r="4.658"/><circle cx="867.79" cy="1160.74" r="4.658"/><circle cx="1110.89" cy="1108.42" r="4.658"/></g>
<g fill="#2c738e" stroke="#2c738e"><circle cx="1100.44" cy="1117.35" r="4.658"/><circle cx="1100.59" cy="1117.5" r="4.658"/><circle cx="718.79" cy="1334.75" r="4.658"/><circle cx="718.94" cy="1334.91" r="4.658"/></g>
<g fill="#2a788e" stroke="#2a788e"><circle cx="547.23" cy="226.96" r="4.658"/><circle cx="543.39" cy="231.58" r="4.658"/><circle cx="540.31" cy="236.19" r="4.658"/><circle cx="538.01" cy="240.81" r="4.658"/><circle cx="542.31" cy="256.5" r="4.658"/><circle cx="408.07" cy="311.58" r="4.658"/><circle cx="555.08" cy="137.72" r="4.658"/><circle cx="616.58" cy="252.81" r="4.658"/><circle cx="641.19" cy="253.89" r="4.658"/><circle cx="600.44" cy="326.97" r="4.658"/><circle cx="649.18" cy="323.89" r="4.658"/><circle cx="928.11" cy="153.57" r="4.658"/><circle cx="1026.99" cy="206.5" r="4.658"/><circle cx="980.7" cy="204.65" r="4.658"/><circle cx="1044.52" cy="256.19" r="4.658"/><circle cx="286.14" cy="340.51" r="4.658"/><circle cx="299.67" cy="354.82" r="4.658"/><circle cx="378.09" cy="419.75" r="4.658"/><circle cx="495.41" cy="430.52" r="4.658"/><circle cx="531.09" cy="468.98" r="4.658"/><circle cx="363.02" cy="523.6" r="4.658"/><circle cx="755.28" cy="354.36" r="4.658"/><circle cx="596.13" cy="427.13" r="4.658"/><circle cx="596.29" cy="427.29" r="4.658"/><circle cx="585.37" cy="482.52" r="4.658"/><circle cx="721.14" cy="488.21" r="4.658"/><circle cx="721.3" cy="488.37" r="4.658"/><circle cx="808.02" cy="524.37" r="4.658"/><circle cx="580.91" cy="512.83" r="4.658"/><circle cx="1053.44" cy="420.52" r="4.658"/><circle cx="403.72" cy="644.54" r="4.658"/><circle cx="321.91" cy="742.08" r="4.658"/><circle cx="446" cy="740.24" r="4.658"/><circle cx="446.16" cy="740.39" r="4.658"/><circle cx="448" cy="746.39" r="4.658"/><circle cx="533.5" cy="568.68" r="4.658"/><circle cx="630.83" cy="576.84" r="4.658"/><circle cx="671.43" cy="587.61" r="4.658"/><circle cx="708.33" cy="593.61" r="4.658"/><circle cx="646.21" cy="668.23" r="4.658"/><circle cx="474.6" cy="678.23" r="4.658"/><circle cx="739.54" cy="658.69" r="4.658"/><circle cx="751.08" cy="775.63" r="4.658"/><circle cx="817.35" cy="655.31" r="4.658"/><circle cx="869.63" cy="693.62" r="4.658"/><circle cx="869.79" cy="693.77" r="4.658"/><circle cx="985.73" cy="718.7" r="4.658"/><circle cx="948.51" cy="722.24" r="4.658"/><circle cx="1005.41" cy="729.16" r="4.658"/><circle cx="1017.25" cy="741.01" r="4.658"/><circle cx="1011.1" cy="751.01" r="4.658"/><circle cx="1243.75" cy="589.15" r="4.658"/><circle cx="1243.9" cy="589.3" r="4.658"/><circle cx="180.75" cy="790.7" r="4.658"/><circle cx="362.66" cy="844.25" r="4.658"/><circle cx="362.81" cy="844.4" r="4.658"/><circle cx="558.1" cy="784.24" r="4.658"/><circle cx="705.72" cy="785.32" r="4.658"/><circle cx="466.92" cy="843.02" r="4.658"/><circle cx="699.57" cy="842.25" r="4.658"/><circle cx="685.73" cy="848.4" r="4.658"/><circle cx="539.95" cy="884.25" r="4.658"/><circle cx="736.01" cy="931.02" r="4.658"/><circle cx="736.16" cy="931.18" r="4.658"/><circle cx="731.09" cy="961.49" r="4.658"/><circle cx="519.35" cy="991.18" r="4.658"/><circle cx="647.28" cy="994.57" r="4.658"/><circle cx="818.12" cy="786.86" r="4.658"/><circle cx="818.27" cy="787.01" r="4.658"/><circle cx="911.15" cy="818.4" r="4.658"/><circle cx="991.11" cy="820.4" r="4.658"/><circle cx="817.35" cy="831.48" r="4.658"/><circle cx="978.04" cy="845.63" r="4.658"/><circle cx="885.32" cy="856.56" r="4.658"/><circle cx="1026.17" cy="859.63" r="4.658"/><circle cx="902.69" cy="955.33" r="4.658"/><circle cx="1050.31" cy="981.49" r="4.658"/><circle cx="1050.46" cy="981.64" r="4.658"/><circle cx="1197.31" cy="834.86" r="4.658"/><circle cx="1064.76" cy="848.09" r="4.658"/><circle cx="1064.92" cy="848.25" r="4.658"/><circle cx="1104.28" cy="919.18" r="4.658"/><circle cx="1067.38" cy="941.49" r="4.658"/><circle cx="524.27" cy="1015.03" r="4.658"/><circle cx="537.03" cy="1020.42" r="4.658"/><circle cx="623.45" cy="1021.19" r="4.658"/><circle cx="472.76" cy="1067.81" r="4.658"/><circle cx="544.72" cy="1136.89" r="4.658"/><circle cx="625.76" cy="1132.73" r="4.658"/><circle cx="871.17" cy="1031.96" r="4.658"/><circle cx="871.32" cy="1032.11" r="4.658"/><circle cx="903.46" cy="1061.19" r="4.658"/><circle cx="928.06" cy="1057.34" r="4.658"/><circle cx="1034.16" cy="1116.58" r="4.658"/><circle cx="766.61" cy="1141.5" r="4.658"/><circle cx="766.76" cy="1141.66" r="4.658"/><circle cx="799.67" cy="1142.74" r="4.658"/><circle cx="1098.13" cy="1005.03" r="4.658"/><circle cx="1219.61" cy="1019.65" r="4.658"/></g>
<g fill="#25848e" stroke="#25848e"><circle cx="547.23" cy="131.57" r="4.658"/><circle cx="550.31" cy="324.66" r="4.658"/><circle cx="558.92" cy="321.58" r="4.658"/><circle cx="954.72" cy="125.11" r="4.658"/><circle cx="1014.99" cy="221.58" r="4.658"/><circle cx="1033.91" cy="227.42" r="4.658"/><circle cx="500.8" cy="385.44" r="4.658"/><circle cx="346.11" cy="437.13" r="4.658"/><circle cx="451.59" cy="452.83" r="4.658"/><circle cx="452.36" cy="453.9" r="4.658"/><circle cx="493.11" cy="464.83" r="4.658"/><circle cx="339.95" cy="502.52" r="4.658"/><circle cx="603.82" cy="402.82" r="4.658"/><circle cx="669.63" cy="364.36" r="4.658"/><circle cx="752.67" cy="353.28" r="4.658"/><circle cx="631.96" cy="449.75" r="4.658"/><circle cx="774.96" cy="471.29" r="4.658"/><circle cx="618.12" cy="519.76" r="4.658"/><circle cx="898.9" cy="445.44" r="4.658"/><circle cx="899.05" cy="445.6" r="4.658"/><circle cx="889.21" cy="488.52" r="4.658"/><circle cx="889.37" cy="488.68" r="4.658"/><circle cx="310.38" cy="759.47" r="4.658"/><circle cx="741.85" cy="591.45" r="4.658"/><circle cx="679.88" cy="619.77" r="4.658"/><circle cx="547.64" cy="666.38" r="4.658"/><circle cx="643.44" cy="684.85" r="4.658"/><circle cx="643.75" cy="687.16" r="4.658"/><circle cx="495.82" cy="733.01" r="4.658"/><circle cx="587.62" cy="755.32" r="4.658"/><circle cx="614.99" cy="767.93" r="4.658"/><circle cx="615.15" cy="768.09" r="4.658"/><circle cx="913.15" cy="557.14" r="4.658"/><circle cx="871.17" cy="587.92" r="4.658"/><circle cx="981.88" cy="641.31" r="4.658"/><circle cx="946.05" cy="654.38" r="4.658"/><circle cx="946.21" cy="654.54" r="4.658"/><circle cx="856.56" cy="656.08" r="4.658"/><circle cx="848.87" cy="692.54" r="4.658"/><circle cx="874.55" cy="705.16" r="4.658"/><circle cx="961.43" cy="723.31" r="4.658"/><circle cx="924.99" cy="754.85" r="4.658"/><circle cx="1223.14" cy="578.22" r="4.658"/><circle cx="1137.34" cy="694.85" r="4.658"/><circle cx="1233.45" cy="724.85" r="4.658"/><circle cx="1233.6" cy="725.01" r="4.658"/><circle cx="1301.41" cy="773.78" r="4.658"/><circle cx="233.96" cy="793.32" r="4.658"/><circle cx="422.17" cy="829.17" r="4.658"/><circle cx="409.56" cy="834.55" r="4.658"/><circle cx="392.95" cy="896.87" r="4.658"/><circle cx="356.97" cy="933.02" r="4.658"/><circle cx="436.93" cy="931.18" r="4.658"/><circle cx="381.11" cy="943.79" r="4.658"/><circle cx="215.51" cy="951.79" r="4.658"/><circle cx="215.66" cy="951.95" r="4.658"/><circle cx="467.84" cy="809.17" r="4.658"/><circle cx="628.83" cy="831.78" r="4.658"/><circle cx="575.17" cy="855.02" r="4.658"/><circle cx="521.2" cy="869.94" r="4.658"/><circle cx="615.76" cy="894.25" r="4.658"/><circle cx="716.48" cy="892.56" r="4.658"/><circle cx="716.63" cy="892.71" r="4.658"/><circle cx="501.21" cy="969.49" r="4.658"/><circle cx="522.73" cy="976.1" r="4.658"/><circle cx="523.04" cy="978.87" r="4.658"/><circle cx="750.31" cy="982.26" r="4.658"/><circle cx="662.66" cy="993.03" r="4.658"/><circle cx="756.31" cy="800.7" r="4.658"/><circle cx="855.02" cy="831.48" r="4.658"/><circle cx="782.29" cy="859.94" r="4.658"/><circle cx="873.78" cy="873.48" r="4.658"/><circle cx="1041.85" cy="893.79" r="4.658"/><circle cx="956.05" cy="915.02" r="4.658"/><circle cx="991.11" cy="909.48" r="4.658"/><circle cx="798.9" cy="925.33" r="4.658"/><circle cx="1131.65" cy="786.86" r="4.658"/><circle cx="1161.17" cy="874.86" r="4.658"/><circle cx="1066.92" cy="938.72" r="4.658"/><circle cx="1054.31" cy="948.41" r="4.658"/><circle cx="1151.64" cy="993.34" r="4.658"/><circle cx="1100.44" cy="1000.72" r="4.658"/><circle cx="408.02" cy="1009.34" r="4.658"/><circle cx="459.69" cy="1006.11" r="4.658"/><circle cx="691.88" cy="1009.95" r="4.658"/><circle cx="601.62" cy="1109.96" r="4.658"/><circle cx="724.17" cy="1174.74" r="4.658"/><circle cx="716.94" cy="1185.35" r="4.658"/><circle cx="623.91" cy="1191.66" r="4.658"/><circle cx="865.79" cy="1022.72" r="4.658"/><circle cx="804.28" cy="1105.81" r="4.658"/><circle cx="783.98" cy="1160.89" r="4.658"/><circle cx="784.14" cy="1161.04" r="4.658"/><circle cx="1229.29" cy="1113.19" r="4.658"/><circle cx="829.65" cy="1244.28" r="4.658"/><circle cx="829.81" cy="1244.44" r="4.658"/></g>
<g fill="#21918c" stroke="#21918c"><circle cx="461.43" cy="189.27" r="4.658"/><circle cx="463.12" cy="191.27" r="4.658"/><circle cx="536.47" cy="216.19" r="4.658"/><circle cx="473.73" cy="292.35" r="4.658"/><circle cx="468.5" cy="306.2" r="4.658"/><circle cx="421.14" cy="284.66" r="4.658"/><circle cx="338.11" cy="273.12" r="4.658"/><circle cx="338.42" cy="273.43" r="4.658"/><circle cx="374.25" cy="316.97" r="4.658"/><circle cx="375.01" cy="320.51" r="4.658"/><circle cx="557.38" cy="146.18" r="4.658"/><circle cx="671.94" cy="214.96" r="4.658"/><circle cx="665.79" cy="239.27" r="4.658"/><circle cx="594.29" cy="306.2" r="4.658"/><circle cx="760.35" cy="263.12" r="4.658"/><circle cx="982.39" cy="146.95" r="4.658"/><circle cx="961.48" cy="202.34" r="4.658"/><circle cx="1015.3" cy="211.57" r="4.658"/><circle cx="965.02" cy="216.96" r="4.658"/><circle cx="292.29" cy="348.66" r="4.658"/><circle cx="400.85" cy="361.59" r="4.658"/><circle cx="442.67" cy="433.9" r="4.658"/><circle cx="442.67" cy="518.99" r="4.658"/><circle cx="442.67" cy="519.76" r="4.658"/><circle cx="664.25" cy="332.82" r="4.658"/><circle cx="668.09" cy="362.05" r="4.658"/><circle cx="788.8" cy="449.75" r="4.658"/><circle cx="790.8" cy="448.21" r="4.658"/><circle cx="793.72" cy="447.44" r="4.658"/><circle cx="777.27" cy="488.21" r="4.658"/><circle cx="754.97" cy="525.45" r="4.658"/><circle cx="897.36" cy="373.28" r="4.658"/><circle cx="1084.19" cy="509.76" r="4.658"/><circle cx="1084.34" cy="509.91" r="4.658"/><circle cx="925.81" cy="549.76" r="4.658"/><circle cx="329.14" cy="657.15" r="4.658"/><circle cx="231.65" cy="702.08" r="4.658"/><circle cx="190.44" cy="738.24" r="4.658"/><circle cx="399.26" cy="773.32" r="4.658"/><circle cx="399.41" cy="773.47" r="4.658"/><circle cx="422.32" cy="592.53" r="4.658"/><circle cx="638.83" cy="613.3" r="4.658"/><circle cx="638.98" cy="613.46" r="4.658"/><circle cx="694.95" cy="609.15" r="4.658"/><circle cx="578.86" cy="622.23" r="4.658"/><circle cx="579.01" cy="622.38" r="4.658"/><circle cx="573.48" cy="667.92" r="4.658"/><circle cx="597.31" cy="697.93" r="4.658"/><circle cx="664.97" cy="700.23" r="4.658"/><circle cx="470.14" cy="716.08" r="4.658"/><circle cx="497.82" cy="710.7" r="4.658"/><circle cx="459.69" cy="747.62" r="4.658"/><circle cx="575.01" cy="768.7" r="4.658"/><circle cx="575.17" cy="768.86" r="4.658"/><circle cx="779.99" cy="623" r="4.658"/><circle cx="982.65" cy="653" r="4.658"/><circle cx="982.8" cy="653.15" r="4.658"/><circle cx="901.15" cy="652.54" r="4.658"/><circle cx="901.31" cy="652.69" r="4.658"/><circle cx="922.22" cy="684.85" r="4.658"/><circle cx="970.35" cy="694.85" r="4.658"/><circle cx="760" cy="725.62" r="4.658"/><circle cx="783.52" cy="747.93" r="4.658"/><circle cx="1130.88" cy="704.85" r="4.658"/><circle cx="1062.76" cy="725.31" r="4.658"/><circle cx="1068.61" cy="727.16" r="4.658"/><circle cx="1071.68" cy="731.78" r="4.658"/><circle cx="201.97" cy="807.17" r="4.658"/><circle cx="217.81" cy="811.01" r="4.658"/><circle cx="363.12" cy="801.78" r="4.658"/><circle cx="316.99" cy="881.94" r="4.658"/><circle cx="383.42" cy="894.1" r="4.658"/><circle cx="485.83" cy="779.93" r="4.658"/><circle cx="548.57" cy="806.55" r="4.658"/><circle cx="544.26" cy="831.48" r="4.658"/><circle cx="621.14" cy="833.02" r="4.658"/><circle cx="575.01" cy="854.86" r="4.658"/><circle cx="633.45" cy="869.48" r="4.658"/><circle cx="633.6" cy="869.63" r="4.658"/><circle cx="722.17" cy="863.48" r="4.658"/><circle cx="722.32" cy="863.63" r="4.658"/><circle cx="608.84" cy="924.25" r="4.658"/><circle cx="497.82" cy="942.26" r="4.658"/><circle cx="497.98" cy="942.41" r="4.658"/><circle cx="559.18" cy="992.26" r="4.658"/><circle cx="718.48" cy="993.03" r="4.658"/><circle cx="694.95" cy="998.41" r="4.658"/><circle cx="887.01" cy="792.55" r="4.658"/><circle cx="918.07" cy="810.71" r="4.658"/><circle cx="834.27" cy="815.63" r="4.658"/><circle cx="1010.33" cy="822.24" r="4.658"/><circle cx="1014.17" cy="821.48" r="4.658"/><circle cx="1020.32" cy="816.55" r="4.658"/><circle cx="841.95" cy="835.32" r="4.658"/><circle cx="971.89" cy="840.71" r="4.658"/><circle cx="972.04" cy="840.86" r="4.658"/><circle cx="996.49" cy="849.17" r="4.658"/><circle cx="996.64" cy="849.32" r="4.658"/><circle cx="1049.54" cy="846.86" r="4.658"/><circle cx="884.24" cy="861.48" r="4.658"/><circle cx="938.52" cy="887.33" r="4.658"/><circle cx="805.05" cy="923.79" r="4.658"/><circle cx="778.45" cy="943.49" r="4.658"/><circle cx="862.25" cy="981.49" r="4.658"/><circle cx="1017.25" cy="981.49" r="4.658"/><circle cx="1166.1" cy="788.7" r="4.658"/><circle cx="1257.28" cy="818.4" r="4.658"/><circle cx="1187.78" cy="833.02" r="4.658"/><circle cx="1192.7" cy="834.86" r="4.658"/><circle cx="1268.81" cy="885.33" r="4.658"/><circle cx="1268.97" cy="885.48" r="4.658"/><circle cx="1249.9" cy="911.79" r="4.658"/><circle cx="1141.65" cy="922.25" r="4.658"/><circle cx="1140.88" cy="958.72" r="4.658"/><circle cx="1061.53" cy="970.41" r="4.658"/><circle cx="1119.66" cy="998.41" r="4.658"/><circle cx="385.27" cy="1017.8" r="4.658"/><circle cx="667.74" cy="1004.26" r="4.658"/><circle cx="548.1" cy="1030.42" r="4.658"/><circle cx="518.58" cy="1049.96" r="4.658"/><circle cx="470.76" cy="1066.57" r="4.658"/><circle cx="631.14" cy="1061.96" r="4.658"/><circle cx="626.22" cy="1095.81" r="4.658"/><circle cx="626.37" cy="1095.96" r="4.658"/><circle cx="601.62" cy="1148.12" r="4.658"/><circle cx="646.52" cy="1147.04" r="4.658"/><circle cx="712.94" cy="1195.51" r="4.658"/><circle cx="813.51" cy="1033.49" r="4.658"/><circle cx="813.66" cy="1033.65" r="4.658"/><circle cx="801.97" cy="1096.12" r="4.658"/><circle cx="877.63" cy="1165.04" r="4.658"/><circle cx="877.78" cy="1165.2" r="4.658"/><circle cx="1307.25" cy="1018.11" r="4.658"/><circle cx="1085.83" cy="1138.58" r="4.658"/></g>
<g fill="#1f978b" stroke="#1f978b"><circle cx="697.57" cy="1336.6" r="4.658"/><circle cx="697.72" cy="1336.75" r="4.658"/></g>
<g fill="#1e9c89" stroke="#1e9c89"><circle cx="496.49" cy="256.96" r="4.658"/><circle cx="467.27" cy="317.74" r="4.658"/><circle cx="568.15" cy="132.8" r="4.658"/><circle cx="565.84" cy="135.88" r="4.658"/><circle cx="627.04" cy="254.35" r="4.658"/><circle cx="628.11" cy="263.12" r="4.658"/><circle cx="595.05" cy="290.5" r="4.658"/><circle cx="777.27" cy="249.27" r="4.658"/><circle cx="907.05" cy="147.42" r="4.658"/><circle cx="978.4" cy="152.8" r="4.658"/><circle cx="916.58" cy="167.72" r="4.658"/><circle cx="920.89" cy="171.57" r="4.658"/><circle cx="937.34" cy="193.11" r="4.658"/><circle cx="996.54" cy="210.81" r="4.658"/><circle cx="1055.43" cy="248.19" r="4.658"/><circle cx="1016.53" cy="254.96" r="4.658"/><circle cx="343.49" cy="426.21" r="4.658"/><circle cx="582.29" cy="367.43" r="4.658"/><circle cx="603.51" cy="386.67" r="4.658"/><circle cx="626.12" cy="410.52" r="4.658"/><circle cx="566.15" cy="423.29" r="4.658"/><circle cx="566.3" cy="423.44" r="4.658"/><circle cx="580.14" cy="466.67" r="4.658"/><circle cx="581.22" cy="516.99" r="4.658"/><circle cx="898.9" cy="372.05" r="4.658"/><circle cx="1039.29" cy="439.75" r="4.658"/><circle cx="916.27" cy="526.68" r="4.658"/><circle cx="253.18" cy="621.3" r="4.658"/><circle cx="325.45" cy="745.62" r="4.658"/><circle cx="179.68" cy="764.55" r="4.658"/><circle cx="607.31" cy="555.91" r="4.658"/><circle cx="483.83" cy="625.61" r="4.658"/><circle cx="667.27" cy="659.15" r="4.658"/><circle cx="551.95" cy="685.92" r="4.658"/><circle cx="552.1" cy="686.08" r="4.658"/><circle cx="524.73" cy="751.01" r="4.658"/><circle cx="818.58" cy="644.84" r="4.658"/><circle cx="924.53" cy="677.62" r="4.658"/><circle cx="971.12" cy="691" r="4.658"/><circle cx="1022.63" cy="691" r="4.658"/><circle cx="811.2" cy="741.01" r="4.658"/><circle cx="972.35" cy="756.85" r="4.658"/><circle cx="972.5" cy="757.01" r="4.658"/><circle cx="1020.32" cy="774.86" r="4.658"/><circle cx="1080.45" cy="736.7" r="4.658"/><circle cx="1139.65" cy="773.32" r="4.658"/><circle cx="196.59" cy="798.4" r="4.658"/><circle cx="299.92" cy="834.55" r="4.658"/><circle cx="324.99" cy="886.87" r="4.658"/><circle cx="402.64" cy="901.48" r="4.658"/><circle cx="484.75" cy="785.01" r="4.658"/><circle cx="689.57" cy="847.63" r="4.658"/><circle cx="656.51" cy="859.17" r="4.658"/><circle cx="630.37" cy="871.48" r="4.658"/><circle cx="482.29" cy="883.79" r="4.658"/><circle cx="682.65" cy="899.17" r="4.658"/><circle cx="636.98" cy="928.41" r="4.658"/><circle cx="555.02" cy="998.41" r="4.658"/><circle cx="942.67" cy="785.32" r="4.658"/><circle cx="876.24" cy="846.86" r="4.658"/><circle cx="1033.39" cy="859.17" r="4.658"/><circle cx="1033.55" cy="859.33" r="4.658"/><circle cx="804.28" cy="862.71" r="4.658"/><circle cx="845.03" cy="870.4" r="4.658"/><circle cx="888.85" cy="898.87" r="4.658"/><circle cx="1026.17" cy="893.79" r="4.658"/><circle cx="900.39" cy="927.18" r="4.658"/><circle cx="900.54" cy="927.33" r="4.658"/><circle cx="914.53" cy="924.56" r="4.658"/><circle cx="860.87" cy="944.56" r="4.658"/><circle cx="861.02" cy="944.72" r="4.658"/><circle cx="785.83" cy="974.57" r="4.658"/><circle cx="1008.79" cy="951.49" r="4.658"/><circle cx="810.12" cy="972.72" r="4.658"/><circle cx="900.85" cy="996.11" r="4.658"/><circle cx="932.37" cy="1000.26" r="4.658"/><circle cx="1269.58" cy="811.47" r="4.658"/><circle cx="1146.11" cy="913.33" r="4.658"/><circle cx="325.45" cy="1030.42" r="4.658"/><circle cx="325.6" cy="1030.57" r="4.658"/><circle cx="451.08" cy="1209.66" r="4.658"/><circle cx="479.68" cy="1006.57" r="4.658"/><circle cx="479.83" cy="1006.72" r="4.658"/><circle cx="744.93" cy="1040.73" r="4.658"/><circle cx="520.43" cy="1053.5" r="4.658"/><circle cx="457.69" cy="1059.19" r="4.658"/><circle cx="630.83" cy="1057.34" r="4.658"/><circle cx="630.99" cy="1057.5" r="4.658"/><circle cx="581.93" cy="1074.27" r="4.658"/><circle cx="582.09" cy="1074.42" r="4.658"/><circle cx="558.56" cy="1145.04" r="4.658"/><circle cx="649.9" cy="1143.97" r="4.658"/><circle cx="708.79" cy="1167.35" r="4.658"/><circle cx="712.33" cy="1173.51" r="4.658"/><circle cx="710.33" cy="1187.35" r="4.658"/><circle cx="900.08" cy="1015.8" r="4.658"/><circle cx="964.2" cy="1026.57" r="4.658"/><circle cx="964.35" cy="1026.72" r="4.658"/><circle cx="867.02" cy="1092.73" r="4.658"/><circle cx="797.05" cy="1140.43" r="4.658"/><circle cx="806.28" cy="1143.2" r="4.658"/><circle cx="881.16" cy="1223.51" r="4.658"/><circle cx="881.32" cy="1223.67" r="4.658"/><circle cx="1101.97" cy="1146.58" r="4.658"/></g>
<g fill="#22a884" stroke="#22a884"><circle cx="550.31" cy="139.26" r="4.658"/><circle cx="543.39" cy="145.41" r="4.658"/><circle cx="548" cy="146.18" r="4.658"/><circle cx="460.35" cy="220.81" r="4.658"/><circle cx="514.94" cy="217.42" r="4.658"/><circle cx="529.55" cy="239.58" r="4.658"/><circle cx="529.7" cy="239.73" r="4.658"/><circle cx="512.17" cy="240.81" r="4.658"/><circle cx="547.23" cy="243.12" r="4.658"/><circle cx="532.63" cy="252.81" r="4.658"/><circle cx="495.72" cy="249.27" r="4.658"/><circle cx="493.41" cy="252.35" r="4.658"/><circle cx="500.33" cy="269.27" r="4.658"/><circle cx="500.33" cy="292.35" r="4.658"/><circle cx="542.62" cy="280.04" r="4.658"/><circle cx="383.93" cy="292.81" r="4.658"/><circle cx="553.54" cy="154.65" r="4.658"/><circle cx="621.96" cy="258.19" r="4.658"/><circle cx="650.41" cy="282.35" r="4.658"/><circle cx="561.53" cy="295.43" r="4.658"/><circle cx="674.25" cy="302.04" r="4.658"/><circle cx="711.46" cy="252.35" r="4.658"/><circle cx="1036.21" cy="245.42" r="4.658"/><circle cx="405.31" cy="354.36" r="4.658"/><circle cx="407.31" cy="355.43" r="4.658"/><circle cx="420.07" cy="388.67" r="4.658"/><circle cx="420.22" cy="388.82" r="4.658"/><circle cx="341.95" cy="424.36" r="4.658"/><circle cx="490.34" cy="444.06" r="4.658"/><circle cx="457.59" cy="458.21" r="4.658"/><circle cx="522.94" cy="481.29" r="4.658"/><circle cx="548" cy="482.83" r="4.658"/><circle cx="603.2" cy="362.82" r="4.658"/><circle cx="665.48" cy="356.66" r="4.658"/><circle cx="681.16" cy="428.67" r="4.658"/><circle cx="646.11" cy="529.45" r="4.658"/><circle cx="688.55" cy="535.6" r="4.658"/><circle cx="1014.99" cy="416.98" r="4.658"/><circle cx="867.38" cy="550.22" r="4.658"/><circle cx="432.16" cy="703.31" r="4.658"/><circle cx="420.32" cy="590.69" r="4.658"/><circle cx="535.5" cy="560.99" r="4.658"/><circle cx="744.62" cy="555.3" r="4.658"/><circle cx="584.55" cy="582.53" r="4.658"/><circle cx="743.7" cy="618.38" r="4.658"/><circle cx="673.43" cy="663.77" r="4.658"/><circle cx="464.61" cy="665.62" r="4.658"/><circle cx="464.76" cy="665.77" r="4.658"/><circle cx="520.73" cy="669" r="4.658"/><circle cx="596.08" cy="716.85" r="4.658"/><circle cx="617.3" cy="743.62" r="4.658"/><circle cx="686.03" cy="757.93" r="4.658"/><circle cx="810.43" cy="574.53" r="4.658"/><circle cx="782.75" cy="605.3" r="4.658"/><circle cx="902.38" cy="628.38" r="4.658"/><circle cx="817.66" cy="641.46" r="4.658"/><circle cx="902.38" cy="647.46" r="4.658"/><circle cx="877.32" cy="661.77" r="4.658"/><circle cx="1023.4" cy="694.85" r="4.658"/><circle cx="1023.86" cy="697.16" r="4.658"/><circle cx="919.91" cy="711.31" r="4.658"/><circle cx="928.37" cy="714.39" r="4.658"/><circle cx="971.89" cy="722.24" r="4.658"/><circle cx="871.17" cy="743.01" r="4.658"/><circle cx="871.32" cy="743.16" r="4.658"/><circle cx="1020.32" cy="728.7" r="4.658"/><circle cx="1088.9" cy="643.31" r="4.658"/><circle cx="1054.31" cy="775.63" r="4.658"/><circle cx="389.26" cy="814.55" r="4.658"/><circle cx="443.7" cy="827.94" r="4.658"/><circle cx="430.78" cy="905.02" r="4.658"/><circle cx="269.63" cy="906.56" r="4.658"/><circle cx="354.97" cy="936.87" r="4.658"/><circle cx="355.13" cy="937.02" r="4.658"/><circle cx="684.19" cy="791.47" r="4.658"/><circle cx="673.43" cy="804.09" r="4.658"/><circle cx="733.39" cy="819.94" r="4.658"/><circle cx="485.83" cy="861.17" r="4.658"/><circle cx="554.72" cy="872.25" r="4.658"/><circle cx="736.78" cy="871.48" r="4.658"/><circle cx="630.37" cy="909.18" r="4.658"/><circle cx="684.65" cy="924.25" r="4.658"/><circle cx="529.96" cy="958.1" r="4.658"/><circle cx="473.53" cy="971.18" r="4.658"/><circle cx="466.15" cy="983.8" r="4.658"/><circle cx="466.3" cy="983.95" r="4.658"/><circle cx="587.01" cy="997.34" r="4.658"/><circle cx="587.16" cy="997.49" r="4.658"/><circle cx="981.88" cy="823.01" r="4.658"/><circle cx="793.06" cy="845.79" r="4.658"/><circle cx="845.34" cy="846.4" r="4.658"/><circle cx="941.13" cy="840.71" r="4.658"/><circle cx="901.62" cy="848.71" r="4.658"/><circle cx="992.95" cy="871.94" r="4.658"/><circle cx="992.65" cy="881.48" r="4.658"/><circle cx="992.8" cy="881.63" r="4.658"/><circle cx="874.71" cy="885.02" r="4.658"/><circle cx="786.6" cy="932.25" r="4.658"/><circle cx="882.7" cy="923.02" r="4.658"/><circle cx="882.86" cy="923.18" r="4.658"/><circle cx="1041.39" cy="922.25" r="4.658"/><circle cx="783.83" cy="962.26" r="4.658"/><circle cx="815.51" cy="988.41" r="4.658"/><circle cx="1075.83" cy="813.01" r="4.658"/><circle cx="1075.99" cy="813.17" r="4.658"/><circle cx="1245.29" cy="834.09" r="4.658"/><circle cx="1091.21" cy="873.48" r="4.658"/><circle cx="1116.58" cy="998.41" r="4.658"/><circle cx="1580.65" cy="853.48" r="4.658"/><circle cx="1572.96" cy="857.63" r="4.658"/><circle cx="1578.81" cy="858.4" r="4.658"/><circle cx="1582.65" cy="858.4" r="4.658"/><circle cx="1588.34" cy="857.17" r="4.658"/><circle cx="1595.72" cy="854.56" r="4.658"/><circle cx="1581.88" cy="863.02" r="4.658"/><circle cx="1598.8" cy="868.1" r="4.658"/><circle cx="1601.56" cy="875.02" r="4.658"/><circle cx="346.98" cy="1070.11" r="4.658"/><circle cx="347.13" cy="1070.27" r="4.658"/><circle cx="318.53" cy="1124.73" r="4.658"/><circle cx="618.07" cy="1043.96" r="4.658"/><circle cx="568.4" cy="1103.19" r="4.658"/><circle cx="618.07" cy="1110.42" r="4.658"/><circle cx="558.1" cy="1143.5" r="4.658"/><circle cx="629.6" cy="1168.89" r="4.658"/><circle cx="707.72" cy="1186.28" r="4.658"/><circle cx="835.03" cy="1007.65" r="4.658"/><circle cx="811.2" cy="1016.88" r="4.658"/><circle cx="960.35" cy="1025.03" r="4.658"/><circle cx="997.26" cy="1081.96" r="4.658"/><circle cx="997.41" cy="1082.11" r="4.658"/><circle cx="799.21" cy="1084.58" r="4.658"/><circle cx="1190.08" cy="1048.57" r="4.658"/><circle cx="1095.06" cy="1148.89" r="4.658"/><circle cx="896.54" cy="1250.13" r="4.658"/></g>
<g fill="#26ad81" stroke="#26ad81"><circle cx="365.43" cy="1132.43" r="4.658"/><circle cx="365.58" cy="1132.58" r="4.658"/></g>
<g fill="#29af7f" stroke="#29af7f"><circle cx="1566.2" cy="853.02" r="4.658"/></g>
<g fill="#2fb47c" stroke="#2fb47c"><circle cx="521.4" cy="299.58" r="4.658"/><circle cx="430.68" cy="291.89" r="4.658"/><circle cx="380.4" cy="293.89" r="4.658"/><circle cx="639.95" cy="283.12" r="4.658"/><circle cx="674.71" cy="302.35" r="4.658"/><circle cx="767.27" cy="253.12" r="4.658"/><circle cx="770.35" cy="254.35" r="4.658"/><circle cx="741.6" cy="262.35" r="4.658"/><circle cx="777.58" cy="274.35" r="4.658"/><circle cx="927.35" cy="134.64" r="4.658"/><circle cx="975.48" cy="228.19" r="4.658"/><circle cx="1012.99" cy="237.42" r="4.658"/><circle cx="1018.53" cy="265.73" r="4.658"/><circle cx="1047.59" cy="271.58" r="4.658"/><circle cx="1010.07" cy="274.66" r="4.658"/><circle cx="316.58" cy="350.2" r="4.658"/><circle cx="318.12" cy="350.82" r="4.658"/><circle cx="495.26" cy="333.28" r="4.658"/><circle cx="513.1" cy="334.35" r="4.658"/><circle cx="444.67" cy="410.05" r="4.658"/><circle cx="482.96" cy="420.05" r="4.658"/><circle cx="442.67" cy="433.9" r="4.658"/><circle cx="506.95" cy="428.98" r="4.658"/><circle cx="524.48" cy="476.98" r="4.658"/><circle cx="359.94" cy="533.3" r="4.658"/><circle cx="569.22" cy="353.13" r="4.658"/><circle cx="575.83" cy="406.36" r="4.658"/><circle cx="687.01" cy="438.52" r="4.658"/><circle cx="600.9" cy="443.6" r="4.658"/><circle cx="561.23" cy="459.75" r="4.658"/><circle cx="568.45" cy="480.98" r="4.658"/><circle cx="613.05" cy="548.99" r="4.658"/><circle cx="403.72" cy="644.54" r="4.658"/><circle cx="234.27" cy="691" r="4.658"/><circle cx="604.69" cy="567.15" r="4.658"/><circle cx="706.18" cy="646.08" r="4.658"/><circle cx="613.76" cy="669.15" r="4.658"/><circle cx="577.63" cy="712.08" r="4.658"/><circle cx="585.01" cy="711" r="4.658"/><circle cx="467.84" cy="746.39" r="4.658"/><circle cx="872.4" cy="594.38" r="4.658"/><circle cx="872.55" cy="594.53" r="4.658"/><circle cx="986.8" cy="590.69" r="4.658"/><circle cx="986.96" cy="590.84" r="4.658"/><circle cx="1040.01" cy="592.22" r="4.658"/><circle cx="1040.16" cy="592.38" r="4.658"/><circle cx="798.59" cy="640.54" r="4.658"/><circle cx="941.13" cy="746.39" r="4.658"/><circle cx="992.34" cy="738.7" r="4.658"/><circle cx="786.14" cy="751.01" r="4.658"/><circle cx="1029.55" cy="771.47" r="4.658"/><circle cx="1029.7" cy="771.62" r="4.658"/><circle cx="1141.65" cy="688.39" r="4.658"/><circle cx="1127.65" cy="711.77" r="4.658"/><circle cx="192.29" cy="794.09" r="4.658"/><circle cx="405.72" cy="786.09" r="4.658"/><circle cx="404.95" cy="833.78" r="4.658"/><circle cx="338.06" cy="897.33" r="4.658"/><circle cx="433.86" cy="965.64" r="4.658"/><circle cx="434.01" cy="965.8" r="4.658"/><circle cx="442.62" cy="1000.72" r="4.658"/><circle cx="575.01" cy="878.4" r="4.658"/><circle cx="578.09" cy="895.64" r="4.658"/><circle cx="683.11" cy="891.48" r="4.658"/><circle cx="603.46" cy="916.87" r="4.658"/><circle cx="694.18" cy="988.11" r="4.658"/><circle cx="985.73" cy="794.55" r="4.658"/><circle cx="985.88" cy="794.7" r="4.658"/><circle cx="968.81" cy="803.78" r="4.658"/><circle cx="763.53" cy="816.09" r="4.658"/><circle cx="963.89" cy="821.94" r="4.658"/><circle cx="812.43" cy="822.24" r="4.658"/><circle cx="779.68" cy="836.4" r="4.658"/><circle cx="777.37" cy="851.94" r="4.658"/><circle cx="848.87" cy="895.79" r="4.658"/><circle cx="754.31" cy="902.25" r="4.658"/><circle cx="860.41" cy="906.56" r="4.658"/><circle cx="992.65" cy="995.34" r="4.658"/><circle cx="1113.2" cy="892.71" r="4.658"/><circle cx="1589.57" cy="782.24" r="4.658"/><circle cx="1564.2" cy="847.94" r="4.658"/><circle cx="678.5" cy="1025.03" r="4.658"/><circle cx="460.46" cy="1062.73" r="4.658"/><circle cx="646.21" cy="1051.65" r="4.658"/><circle cx="629.91" cy="1166.28" r="4.658"/><circle cx="626.99" cy="1207.82" r="4.658"/><circle cx="627.14" cy="1207.97" r="4.658"/><circle cx="470.76" cy="1213.05" r="4.658"/><circle cx="470.91" cy="1213.2" r="4.658"/><circle cx="761.53" cy="1018.11" r="4.658"/><circle cx="1045.23" cy="1009.65" r="4.658"/><circle cx="958.82" cy="1177.35" r="4.658"/><circle cx="958.97" cy="1177.51" r="4.658"/><circle cx="1092.29" cy="1010.42" r="4.658"/><circle cx="1234.98" cy="1089.65" r="4.658"/><circle cx="1235.14" cy="1089.81" r="4.658"/></g>
<g fill="#3bbb75" stroke="#3bbb75"><circle cx="1579.58" cy="779.16" r="4.658"/><circle cx="1584.96" cy="780.7" r="4.658"/><circle cx="1546.98" cy="878.4" r="4.658"/><circle cx="1534.98" cy="889.94" r="4.658"/><circle cx="1537.29" cy="889.17" r="4.658"/><circle cx="1537.44" cy="889.33" r="4.658"/><circle cx="1538.83" cy="894.25" r="4.658"/><circle cx="1545.29" cy="888.1" r="4.658"/><circle cx="1548.82" cy="890.71" r="4.658"/></g>
<g fill="#44bf70" stroke="#44bf70"><circle cx="547.23" cy="160.8" r="4.658"/><circle cx="483.42" cy="216.96" r="4.658"/><circle cx="514.63" cy="277.73" r="4.658"/><circle cx="529.24" cy="287.43" r="4.658"/><circle cx="530.32" cy="296.2" r="4.658"/><circle cx="531.09" cy="310.05" r="4.658"/><circle cx="660.71" cy="284.2" r="4.658"/><circle cx="615.81" cy="308.2" r="4.658"/><circle cx="961.48" cy="181.11" r="4.658"/><circle cx="1012.99" cy="247.27" r="4.658"/><circle cx="305.82" cy="343.59" r="4.658"/><circle cx="392.24" cy="347.13" r="4.658"/><circle cx="598.59" cy="456.67" r="4.658"/><circle cx="643.8" cy="474.06" r="4.658"/><circle cx="330.06" cy="759.93" r="4.658"/><circle cx="330.22" cy="760.09" r="4.658"/><circle cx="708.02" cy="639.46" r="4.658"/><circle cx="498.13" cy="672.23" r="4.658"/><circle cx="482.75" cy="677.62" r="4.658"/><circle cx="632.98" cy="767.93" r="4.658"/><circle cx="845.34" cy="643.31" r="4.658"/><circle cx="761.23" cy="709.47" r="4.658"/><circle cx="1023.09" cy="735.31" r="4.658"/><circle cx="1101.21" cy="636.84" r="4.658"/><circle cx="1095.52" cy="647.92" r="4.658"/><circle cx="327.76" cy="889.17" r="4.658"/><circle cx="355.74" cy="889.64" r="4.658"/><circle cx="417.71" cy="961.49" r="4.658"/><circle cx="612.69" cy="828.09" r="4.658"/><circle cx="695.41" cy="846.86" r="4.658"/><circle cx="506.13" cy="889.48" r="4.658"/><circle cx="667.74" cy="919.48" r="4.658"/><circle cx="731.09" cy="960.72" r="4.658"/><circle cx="811.2" cy="831.17" r="4.658"/><circle cx="768.91" cy="845.32" r="4.658"/><circle cx="809.2" cy="860.71" r="4.658"/><circle cx="760.76" cy="871.79" r="4.658"/><circle cx="953.44" cy="875.79" r="4.658"/><circle cx="761.53" cy="908.41" r="4.658"/><circle cx="824.73" cy="950.41" r="4.658"/><circle cx="830.42" cy="954.1" r="4.658"/><circle cx="762.46" cy="959.18" r="4.658"/><circle cx="939.6" cy="970.72" r="4.658"/><circle cx="1060.92" cy="788.7" r="4.658"/><circle cx="1087.67" cy="944.56" r="4.658"/><circle cx="1087.83" cy="944.72" r="4.658"/><circle cx="1531.14" cy="784.55" r="4.658"/><circle cx="1523.45" cy="786.86" r="4.658"/><circle cx="1513.46" cy="790.24" r="4.658"/><circle cx="1517.3" cy="795.32" r="4.658"/><circle cx="1511.15" cy="799.17" r="4.658"/><circle cx="1514.22" cy="801.94" r="4.658"/><circle cx="1503.46" cy="802.55" r="4.658"/><circle cx="1506.23" cy="809.63" r="4.658"/><circle cx="1558.51" cy="840.71" r="4.658"/><circle cx="1543.44" cy="866.86" r="4.658"/><circle cx="1546.52" cy="868.86" r="4.658"/><circle cx="1553.9" cy="874.56" r="4.658"/><circle cx="1556.05" cy="896.56" r="4.658"/><circle cx="1562.2" cy="895.64" r="4.658"/><circle cx="1572.2" cy="888.87" r="4.658"/><circle cx="391.57" cy="1024.57" r="4.658"/><circle cx="409.56" cy="1015.8" r="4.658"/><circle cx="448.77" cy="1149.66" r="4.658"/><circle cx="613.15" cy="1110.89" r="4.658"/><circle cx="696.95" cy="1151.2" r="4.658"/><circle cx="698.49" cy="1153.81" r="4.658"/><circle cx="1016.48" cy="1016.88" r="4.658"/><circle cx="1016.63" cy="1017.03" r="4.658"/><circle cx="988.96" cy="1063.8" r="4.658"/><circle cx="989.11" cy="1063.96" r="4.658"/><circle cx="1186.85" cy="1017.34" r="4.658"/><circle cx="1316.48" cy="1019.65" r="4.658"/><circle cx="1318.02" cy="1020.11" r="4.658"/></g>
<g fill="#52c569" stroke="#52c569"><circle cx="1524.22" cy="805.63" r="4.658"/><circle cx="1525.76" cy="809.17" r="4.658"/><circle cx="1529.6" cy="809.94" r="4.658"/><circle cx="1518.84" cy="816.55" r="4.658"/></g>
<g fill="#5ec962" stroke="#5ec962"><circle cx="544.93" cy="171.88" r="4.658"/><circle cx="483.42" cy="289.74" r="4.658"/><circle cx="517.25" cy="322.05" r="4.658"/><circle cx="503.87" cy="319.28" r="4.658"/><circle cx="559.23" cy="170.34" r="4.658"/><circle cx="674.25" cy="223.11" r="4.658"/><circle cx="652.26" cy="284.66" r="4.658"/><circle cx="757.74" cy="273.12" r="4.658"/><circle cx="780.04" cy="286.2" r="4.658"/><circle cx="959.33" cy="136.49" r="4.658"/><circle cx="302.74" cy="349.74" r="4.658"/><circle cx="476.5" cy="355.13" r="4.658"/><circle cx="445.44" cy="417.75" r="4.658"/><circle cx="400.39" cy="410.98" r="4.658"/><circle cx="400.54" cy="411.13" r="4.658"/><circle cx="528.32" cy="413.9" r="4.658"/><circle cx="746.52" cy="409.28" r="4.658"/><circle cx="627.04" cy="433.59" r="4.658"/><circle cx="627.81" cy="462.37" r="4.658"/><circle cx="599.67" cy="471.6" r="4.658"/><circle cx="355.74" cy="621.77" r="4.658"/><circle cx="355.9" cy="621.92" r="4.658"/><circle cx="714.63" cy="558.68" r="4.658"/><circle cx="573.48" cy="667.92" r="4.658"/><circle cx="691.88" cy="688.39" r="4.658"/><circle cx="516.12" cy="728.7" r="4.658"/><circle cx="734.16" cy="726.08" r="4.658"/><circle cx="735.24" cy="732.24" r="4.658"/><circle cx="739.54" cy="747.62" r="4.658"/><circle cx="510.12" cy="752.24" r="4.658"/><circle cx="515.35" cy="751.47" r="4.658"/><circle cx="562.25" cy="754.39" r="4.658"/><circle cx="639.29" cy="770.24" r="4.658"/><circle cx="467.38" cy="772.24" r="4.658"/><circle cx="498.59" cy="771.47" r="4.658"/><circle cx="916.84" cy="592.07" r="4.658"/><circle cx="922.22" cy="685.62" r="4.658"/><circle cx="918.53" cy="704.54" r="4.658"/><circle cx="966.51" cy="724.08" r="4.658"/><circle cx="829.65" cy="771.01" r="4.658"/><circle cx="1176.09" cy="648.23" r="4.658"/><circle cx="1176.24" cy="648.38" r="4.658"/><circle cx="1226.53" cy="741.78" r="4.658"/><circle cx="446.46" cy="789.93" r="4.658"/><circle cx="433.39" cy="866.4" r="4.658"/><circle cx="433.55" cy="866.56" r="4.658"/><circle cx="414.94" cy="940.41" r="4.658"/><circle cx="415.1" cy="940.56" r="4.658"/><circle cx="429.55" cy="951.18" r="4.658"/><circle cx="429.7" cy="951.33" r="4.658"/><circle cx="585.47" cy="779.93" r="4.658"/><circle cx="476.91" cy="889.17" r="4.658"/><circle cx="741.85" cy="916.1" r="4.658"/><circle cx="471.68" cy="919.95" r="4.658"/><circle cx="497.36" cy="916.87" r="4.658"/><circle cx="620.07" cy="963.03" r="4.658"/><circle cx="646.82" cy="956.87" r="4.658"/><circle cx="646.98" cy="957.03" r="4.658"/><circle cx="742.62" cy="964.26" r="4.658"/><circle cx="796.29" cy="795.01" r="4.658"/><circle cx="818.89" cy="806.4" r="4.658"/><circle cx="871.94" cy="815.63" r="4.658"/><circle cx="875.01" cy="817.63" r="4.658"/><circle cx="879.63" cy="838.4" r="4.658"/><circle cx="927.29" cy="833.32" r="4.658"/><circle cx="964.97" cy="861.17" r="4.658"/><circle cx="956.97" cy="868.1" r="4.658"/><circle cx="957.13" cy="868.25" r="4.658"/><circle cx="837.03" cy="894.25" r="4.658"/><circle cx="918.07" cy="896.87" r="4.658"/><circle cx="1007.72" cy="906.1" r="4.658"/><circle cx="931.91" cy="925.33" r="4.658"/><circle cx="771.99" cy="970.72" r="4.658"/><circle cx="772.14" cy="970.87" r="4.658"/><circle cx="832.27" cy="989.95" r="4.658"/><circle cx="780.75" cy="995.8" r="4.658"/><circle cx="780.91" cy="995.95" r="4.658"/><circle cx="945.75" cy="999.65" r="4.658"/><circle cx="1035.39" cy="995.64" r="4.658"/><circle cx="1293.88" cy="932.25" r="4.658"/><circle cx="1141.19" cy="999.65" r="4.658"/><circle cx="1110.12" cy="997.65" r="4.658"/><circle cx="1568.35" cy="836.09" r="4.658"/><circle cx="1534.98" cy="866.86" r="4.658"/><circle cx="353.9" cy="1043.5" r="4.658"/><circle cx="354.05" cy="1043.65" r="4.658"/><circle cx="447.23" cy="1138.89" r="4.658"/><circle cx="451.08" cy="1145.81" r="4.658"/><circle cx="449.54" cy="1197.36" r="4.658"/><circle cx="449.69" cy="1197.51" r="4.658"/><circle cx="680.04" cy="1021.96" r="4.658"/><circle cx="619.15" cy="1126.89" r="4.658"/><circle cx="619.3" cy="1127.04" r="4.658"/><circle cx="488.44" cy="1219.36" r="4.658"/><circle cx="809.36" cy="1025.03" r="4.658"/><circle cx="876.86" cy="1016.57" r="4.658"/><circle cx="1203" cy="1050.11" r="4.658"/></g>
<g fill="#6ece58" stroke="#6ece58"><circle cx="383.42" cy="1065.81" r="4.658"/><circle cx="383.57" cy="1065.96" r="4.658"/><circle cx="716.79" cy="1060.11" r="4.658"/><circle cx="716.94" cy="1060.27" r="4.658"/><circle cx="785.52" cy="1046.88" r="4.658"/><circle cx="785.68" cy="1047.03" r="4.658"/><circle cx="867.02" cy="1093.5" r="4.658"/><circle cx="867.17" cy="1093.65" r="4.658"/></g>
<g fill="#7ad151" stroke="#7ad151"><circle cx="538.78" cy="166.65" r="4.658"/><circle cx="545.23" cy="171.26" r="4.658"/><circle cx="535.24" cy="288.2" r="4.658"/><circle cx="518.79" cy="315.89" r="4.658"/><circle cx="560.92" cy="161.57" r="4.658"/><circle cx="613.05" cy="234.35" r="4.658"/><circle cx="598.59" cy="250.35" r="4.658"/><circle cx="560.46" cy="314.97" r="4.658"/><circle cx="742.67" cy="282.66" r="4.658"/><circle cx="965.48" cy="132.34" r="4.658"/><circle cx="972.4" cy="144.65" r="4.658"/><circle cx="961.48" cy="171.11" r="4.658"/><circle cx="932.27" cy="175.88" r="4.658"/><circle cx="960.41" cy="191.57" r="4.658"/><circle cx="998.08" cy="198.5" r="4.658"/><circle cx="1022.68" cy="238.04" r="4.658"/><circle cx="1024.99" cy="255.42" r="4.658"/><circle cx="1032.68" cy="258.96" r="4.658"/><circle cx="427.29" cy="338.2" r="4.658"/><circle cx="464.66" cy="340.05" r="4.658"/><circle cx="471.89" cy="349.28" r="4.658"/><circle cx="479.27" cy="354.36" r="4.658"/><circle cx="497.72" cy="432.06" r="4.658"/><circle cx="499.26" cy="452.52" r="4.658"/><circle cx="541.54" cy="480.52" r="4.658"/><circle cx="490.65" cy="526.68" r="4.658"/><circle cx="560.46" cy="401.28" r="4.658"/><circle cx="560.61" cy="401.44" r="4.658"/><circle cx="617.35" cy="404.82" r="4.658"/><circle cx="738.83" cy="405.13" r="4.658"/><circle cx="748.05" cy="410.82" r="4.658"/><circle cx="650.41" cy="454.37" r="4.658"/><circle cx="651.18" cy="455.13" r="4.658"/><circle cx="619.2" cy="458.67" r="4.658"/><circle cx="622.73" cy="485.6" r="4.658"/><circle cx="581.22" cy="511.29" r="4.658"/><circle cx="1049.28" cy="414.36" r="4.658"/><circle cx="978.09" cy="551.3" r="4.658"/><circle cx="1170.91" cy="500.06" r="4.658"/><circle cx="329.29" cy="659.92" r="4.658"/><circle cx="422.63" cy="699" r="4.658"/><circle cx="422.78" cy="699.16" r="4.658"/><circle cx="315.45" cy="750.24" r="4.658"/><circle cx="708.33" cy="593.61" r="4.658"/><circle cx="668.5" cy="635.15" r="4.658"/><circle cx="632.98" cy="716.85" r="4.658"/><circle cx="674.5" cy="720.24" r="4.658"/><circle cx="515.81" cy="724.54" r="4.658"/><circle cx="597.31" cy="728.39" r="4.658"/><circle cx="530.42" cy="770.7" r="4.658"/><circle cx="779.22" cy="620.53" r="4.658"/><circle cx="801.97" cy="620.23" r="4.658"/><circle cx="1011.87" cy="625.61" r="4.658"/><circle cx="958.05" cy="638.69" r="4.658"/><circle cx="861.94" cy="664.54" r="4.658"/><circle cx="1016.02" cy="703.31" r="4.658"/><circle cx="955.74" cy="763.62" r="4.658"/><circle cx="1131.96" cy="723.01" r="4.658"/><circle cx="1132.11" cy="723.16" r="4.658"/><circle cx="1148.57" cy="764.86" r="4.658"/><circle cx="1148.72" cy="765.01" r="4.658"/><circle cx="163.84" cy="813.47" r="4.658"/><circle cx="391.42" cy="885.79" r="4.658"/><circle cx="504.59" cy="785.78" r="4.658"/><circle cx="501.21" cy="793.32" r="4.658"/><circle cx="532.73" cy="782.55" r="4.658"/><circle cx="532.88" cy="782.7" r="4.658"/><circle cx="733.09" cy="794.24" r="4.658"/><circle cx="733.24" cy="794.4" r="4.658"/><circle cx="581.16" cy="816.09" r="4.658"/><circle cx="593.77" cy="809.63" r="4.658"/><circle cx="667.27" cy="946.1" r="4.658"/><circle cx="509.97" cy="973.8" r="4.658"/><circle cx="821.96" cy="831.48" r="4.658"/><circle cx="788.44" cy="841.48" r="4.658"/><circle cx="877.32" cy="847.32" r="4.658"/><circle cx="914.53" cy="845.02" r="4.658"/><circle cx="797.67" cy="864.25" r="4.658"/><circle cx="850.41" cy="867.63" r="4.658"/><circle cx="925.45" cy="866.86" r="4.658"/><circle cx="882.39" cy="893.33" r="4.658"/><circle cx="885.01" cy="896.87" r="4.658"/><circle cx="781.98" cy="903.02" r="4.658"/><circle cx="843.49" cy="917.64" r="4.658"/><circle cx="988.49" cy="948.41" r="4.658"/><circle cx="792.29" cy="958.41" r="4.658"/><circle cx="932.68" cy="966.1" r="4.658"/><circle cx="817.35" cy="1000.72" r="4.658"/><circle cx="1012.17" cy="994.57" r="4.658"/><circle cx="1020.32" cy="979.95" r="4.658"/><circle cx="1183.47" cy="936.56" r="4.658"/><circle cx="1073.07" cy="960.26" r="4.658"/><circle cx="1524.99" cy="818.4" r="4.658"/><circle cx="1530.37" cy="817.63" r="4.658"/><circle cx="1574.19" cy="846.86" r="4.658"/><circle cx="1533.45" cy="874.56" r="4.658"/><circle cx="535.5" cy="1011.18" r="4.658"/><circle cx="469.38" cy="1049.65" r="4.658"/><circle cx="469.53" cy="1049.8" r="4.658"/><circle cx="558.56" cy="1119.35" r="4.658"/><circle cx="632.22" cy="1124.27" r="4.658"/><circle cx="901.92" cy="1014.72" r="4.658"/><circle cx="993.41" cy="1118.58" r="4.658"/><circle cx="993.57" cy="1118.73" r="4.658"/><circle cx="1192.7" cy="1047.03" r="4.658"/></g>
<g fill="#8ed645" stroke="#8ed645"><circle cx="1531.91" cy="877.17" r="4.658"/><circle cx="875.48" cy="1237.05" r="4.658"/><circle cx="875.63" cy="1237.21" r="4.658"/></g>
<g fill="#9bd93c" stroke="#9bd93c"><circle cx="502.95" cy="277.43" r="4.658"/><circle cx="491.42" cy="282.81" r="4.658"/><circle cx="456.82" cy="303.89" r="4.658"/><circle cx="439.6" cy="302.04" r="4.658"/><circle cx="585.52" cy="276.2" r="4.658"/><circle cx="610.43" cy="271.12" r="4.658"/><circle cx="615.35" cy="281.12" r="4.658"/><circle cx="644.26" cy="311.12" r="4.658"/><circle cx="971.17" cy="120.8" r="4.658"/><circle cx="961.64" cy="145.72" r="4.658"/><circle cx="961.17" cy="146.95" r="4.658"/><circle cx="931.96" cy="179.26" r="4.658"/><circle cx="955.33" cy="201.57" r="4.658"/><circle cx="970.4" cy="218.96" r="4.658"/><circle cx="1022.68" cy="248.19" r="4.658"/><circle cx="425.76" cy="335.89" r="4.658"/><circle cx="444.67" cy="359.74" r="4.658"/><circle cx="550.31" cy="364.67" r="4.658"/><circle cx="509.1" cy="392.82" r="4.658"/><circle cx="550.62" cy="382.51" r="4.658"/><circle cx="342.72" cy="417.9" r="4.658"/><circle cx="635.03" cy="329.43" r="4.658"/><circle cx="575.53" cy="374.82" r="4.658"/><circle cx="616.89" cy="382.51" r="4.658"/><circle cx="804.18" cy="446.21" r="4.658"/><circle cx="649.64" cy="540.22" r="4.658"/><circle cx="929.35" cy="362.36" r="4.658"/><circle cx="929.5" cy="362.51" r="4.658"/><circle cx="1006.23" cy="415.9" r="4.658"/><circle cx="1015.76" cy="417.44" r="4.658"/><circle cx="421.4" cy="575.61" r="4.658"/><circle cx="675.73" cy="643" r="4.658"/><circle cx="495.52" cy="677.62" r="4.658"/><circle cx="643.44" cy="676.39" r="4.658"/><circle cx="568.4" cy="693.31" r="4.658"/><circle cx="660.35" cy="741.47" r="4.658"/><circle cx="750.31" cy="749.16" r="4.658"/><circle cx="484.6" cy="744.55" r="4.658"/><circle cx="484.6" cy="759.47" r="4.658"/><circle cx="733.7" cy="766.09" r="4.658"/><circle cx="479.68" cy="773.32" r="4.658"/><circle cx="492.75" cy="768.39" r="4.658"/><circle cx="835.8" cy="683.31" r="4.658"/><circle cx="1005.72" cy="670.54" r="4.658"/><circle cx="1005.87" cy="670.69" r="4.658"/><circle cx="898.08" cy="710.54" r="4.658"/><circle cx="792.75" cy="737.16" r="4.658"/><circle cx="971.89" cy="746.7" r="4.658"/><circle cx="1258.82" cy="651.77" r="4.658"/><circle cx="302.69" cy="834.25" r="4.658"/><circle cx="363.43" cy="801.78" r="4.658"/><circle cx="416.94" cy="951.18" r="4.658"/><circle cx="702.33" cy="786.09" r="4.658"/><circle cx="614.53" cy="810.24" r="4.658"/><circle cx="558.1" cy="838.4" r="4.658"/><circle cx="748.77" cy="851.02" r="4.658"/><circle cx="607.61" cy="887.64" r="4.658"/><circle cx="511.66" cy="990.72" r="4.658"/><circle cx="895" cy="787.63" r="4.658"/><circle cx="907.77" cy="807.63" r="4.658"/><circle cx="907.92" cy="807.78" r="4.658"/><circle cx="962.66" cy="808.09" r="4.658"/><circle cx="803.2" cy="813.47" r="4.658"/><circle cx="861.17" cy="812.24" r="4.658"/><circle cx="903.46" cy="875.33" r="4.658"/><circle cx="791.21" cy="908.87" r="4.658"/><circle cx="1116.58" cy="824.86" r="4.658"/><circle cx="1116.74" cy="825.01" r="4.658"/><circle cx="1246.98" cy="833.02" r="4.658"/><circle cx="1493.47" cy="844.55" r="4.658"/><circle cx="1466.56" cy="857.17" r="4.658"/><circle cx="1475.48" cy="856.86" r="4.658"/><circle cx="1487.32" cy="857.63" r="4.658"/><circle cx="1485.01" cy="861.48" r="4.658"/><circle cx="1484.24" cy="865.33" r="4.658"/><circle cx="1584.19" cy="844.25" r="4.658"/><circle cx="441.85" cy="1144.58" r="4.658"/><circle cx="443.7" cy="1209.2" r="4.658"/><circle cx="693.41" cy="1004.26" r="4.658"/><circle cx="751.08" cy="1068.88" r="4.658"/><circle cx="751.23" cy="1069.04" r="4.658"/><circle cx="755.38" cy="1012.72" r="4.658"/><circle cx="803.82" cy="1019.95" r="4.658"/><circle cx="989.57" cy="1119.66" r="4.658"/></g>
<g fill="#b0dd2f" stroke="#b0dd2f"><circle cx="1497.31" cy="846.86" r="4.658"/><circle cx="1486.09" cy="849.94" r="4.658"/><circle cx="1495" cy="856.86" r="4.658"/><circle cx="1495" cy="859.94" r="4.658"/><circle cx="1539.6" cy="872.56" r="4.658"/><circle cx="550.41" cy="1031.96" r="4.658"/><circle cx="550.56" cy="1032.11" r="4.658"/><circle cx="713.4" cy="1024.72" r="4.658"/><circle cx="825.5" cy="1063.5" r="4.658"/><circle cx="825.65" cy="1063.65" r="4.658"/><circle cx="972.96" cy="1122.27" r="4.658"/><circle cx="1096.59" cy="1143.5" r="4.658"/><circle cx="505.05" cy="1229.82" r="4.658"/><circle cx="505.2" cy="1229.97" r="4.658"/></g>
<g fill="#bddf26" stroke="#bddf26"><circle cx="475.42" cy="255.42" r="4.658"/><circle cx="546" cy="303.58" r="4.658"/><circle cx="674.55" cy="233.58" r="4.658"/><circle cx="978.55" cy="137.72" r="4.658"/><circle cx="946.11" cy="164.96" r="4.658"/><circle cx="951.95" cy="169.26" r="4.658"/><circle cx="984.24" cy="216.5" r="4.658"/><circle cx="385.47" cy="348.97" r="4.658"/><circle cx="533.39" cy="337.89" r="4.658"/><circle cx="514.63" cy="354.36" r="4.658"/><circle cx="546" cy="365.13" r="4.658"/><circle cx="502.95" cy="392.82" r="4.658"/><circle cx="529.55" cy="382.51" r="4.658"/><circle cx="504.95" cy="456.37" r="4.658"/><circle cx="644.26" cy="329.43" r="4.658"/><circle cx="669.32" cy="333.89" r="4.658"/><circle cx="580.75" cy="350.2" r="4.658"/><circle cx="553.54" cy="400.05" r="4.658"/><circle cx="591.21" cy="408.98" r="4.658"/><circle cx="820.63" cy="380.21" r="4.658"/><circle cx="827.24" cy="384.05" r="4.658"/><circle cx="682.24" cy="430.06" r="4.658"/><circle cx="813.4" cy="445.13" r="4.658"/><circle cx="861.23" cy="545.6" r="4.658"/><circle cx="329.29" cy="661" r="4.658"/><circle cx="333.75" cy="746.08" r="4.658"/><circle cx="333.91" cy="746.24" r="4.658"/><circle cx="468.15" cy="576.07" r="4.658"/><circle cx="630.83" cy="614.07" r="4.658"/><circle cx="586.24" cy="705.31" r="4.658"/><circle cx="528.58" cy="711.31" r="4.658"/><circle cx="742.62" cy="749.16" r="4.658"/><circle cx="715.25" cy="769.47" r="4.658"/><circle cx="812.28" cy="575.61" r="4.658"/><circle cx="1055.38" cy="765.62" r="4.658"/><circle cx="1578.04" cy="772.55" r="4.658"/><circle cx="1578.19" cy="772.7" r="4.658"/><circle cx="443.7" cy="827.94" r="4.658"/><circle cx="355.74" cy="889.64" r="4.658"/><circle cx="447.23" cy="1001.49" r="4.658"/><circle cx="492.29" cy="801.47" r="4.658"/><circle cx="663.43" cy="861.48" r="4.658"/><circle cx="460.46" cy="920.72" r="4.658"/><circle cx="637.6" cy="929.49" r="4.658"/><circle cx="489.98" cy="983.8" r="4.658"/><circle cx="546.87" cy="983.49" r="4.658"/><circle cx="741.54" cy="986.87" r="4.658"/><circle cx="830.11" cy="819.94" r="4.658"/><circle cx="878.55" cy="821.48" r="4.658"/><circle cx="1000.64" cy="824.25" r="4.658"/><circle cx="946.82" cy="844.86" r="4.658"/><circle cx="801.97" cy="879.17" r="4.658"/><circle cx="854.56" cy="901.48" r="4.658"/><circle cx="812.43" cy="906.56" r="4.658"/><circle cx="761.53" cy="908.41" r="4.658"/><circle cx="919.61" cy="925.02" r="4.658"/><circle cx="901.15" cy="998.41" r="4.658"/><circle cx="1279.58" cy="805.78" r="4.658"/><circle cx="1094.59" cy="877.17" r="4.658"/><circle cx="1083.98" cy="980.26" r="4.658"/><circle cx="1537.29" cy="813.78" r="4.658"/><circle cx="1538.83" cy="815.32" r="4.658"/><circle cx="1460.71" cy="813.01" r="4.658"/><circle cx="1471.94" cy="809.94" r="4.658"/><circle cx="1476.09" cy="813.32" r="4.658"/><circle cx="1475.78" cy="825.32" r="4.658"/><circle cx="1462.71" cy="826.09" r="4.658"/><circle cx="1455.33" cy="828.09" r="4.658"/><circle cx="1474.55" cy="830.71" r="4.658"/><circle cx="1455.02" cy="839.17" r="4.658"/><circle cx="1577.27" cy="843.02" r="4.658"/><circle cx="352.36" cy="1065.04" r="4.658"/><circle cx="625.45" cy="1064.73" r="4.658"/><circle cx="708.79" cy="1126.27" r="4.658"/><circle cx="708.95" cy="1126.43" r="4.658"/><circle cx="601.62" cy="1148.12" r="4.658"/><circle cx="617.76" cy="1173.97" r="4.658"/><circle cx="517.66" cy="1215.05" r="4.658"/><circle cx="517.81" cy="1215.2" r="4.658"/><circle cx="919.61" cy="1128.12" r="4.658"/><circle cx="1300.03" cy="1037.34" r="4.658"/><circle cx="1300.18" cy="1037.49" r="4.658"/></g>
<g fill="#cae11f" stroke="#cae11f"><circle cx="663.89" cy="1136.58" r="4.658"/><circle cx="664.05" cy="1136.73" r="4.658"/></g>
<g fill="#d2e21b" stroke="#d2e21b"><circle cx="808.02" cy="524.06" r="4.658"/><circle cx="1195" cy="691" r="4.658"/><circle cx="1195.16" cy="691.16" r="4.658"/><circle cx="1053.85" cy="823.78" r="4.658"/><circle cx="1054" cy="823.94" r="4.658"/><circle cx="1465.33" cy="818.4" r="4.658"/><circle cx="1465.48" cy="818.55" r="4.658"/><circle cx="1482.7" cy="822.71" r="4.658"/><circle cx="425.71" cy="1045.34" r="4.658"/><circle cx="425.86" cy="1045.5" r="4.658"/><circle cx="674.5" cy="1096.58" r="4.658"/><circle cx="915.3" cy="1110.89" r="4.658"/><circle cx="1028.01" cy="1120.73" r="4.658"/><circle cx="1218.53" cy="1018.88" r="4.658"/><circle cx="1224.53" cy="1113.19" r="4.658"/><circle cx="1224.68" cy="1113.35" r="4.658"/><circle cx="1114.28" cy="1104.73" r="4.658"/></g>
<g fill="#dfe318" stroke="#dfe318"><circle cx="480.34" cy="317.74" r="4.658"/><circle cx="383.16" cy="321.58" r="4.658"/><circle cx="639.65" cy="267.73" r="4.658"/><circle cx="560.46" cy="272.81" r="4.658"/><circle cx="560.61" cy="272.96" r="4.658"/><circle cx="298.59" cy="342.51" r="4.658"/><circle cx="455.28" cy="400.21" r="4.658"/><circle cx="474.5" cy="426.98" r="4.658"/><circle cx="531.55" cy="512.52" r="4.658"/><circle cx="593.98" cy="365.9" r="4.658"/><circle cx="588.44" cy="384.67" r="4.658"/><circle cx="578.91" cy="392.05" r="4.658"/><circle cx="672.4" cy="411.59" r="4.658"/><circle cx="629.19" cy="425.9" r="4.658"/><circle cx="581.22" cy="469.29" r="4.658"/><circle cx="816.17" cy="445.44" r="4.658"/><circle cx="776.5" cy="481.29" r="4.658"/><circle cx="641.19" cy="545.14" r="4.658"/><circle cx="947.64" cy="491.29" r="4.658"/><circle cx="252.72" cy="624.07" r="4.658"/><circle cx="590.39" cy="578.68" r="4.658"/><circle cx="488.6" cy="611.76" r="4.658"/><circle cx="723.4" cy="628.69" r="4.658"/><circle cx="532.27" cy="693.31" r="4.658"/><circle cx="537.8" cy="726.08" r="4.658"/><circle cx="823.5" cy="571.76" r="4.658"/><circle cx="850.41" cy="681.77" r="4.658"/><circle cx="845.8" cy="720.24" r="4.658"/><circle cx="1062.46" cy="620.23" r="4.658"/><circle cx="1091.52" cy="644.84" r="4.658"/><circle cx="431.86" cy="905.79" r="4.658"/><circle cx="449.54" cy="908.1" r="4.658"/><circle cx="317.61" cy="946.87" r="4.658"/><circle cx="345.75" cy="982.26" r="4.658"/><circle cx="345.9" cy="982.41" r="4.658"/><circle cx="518.43" cy="871.48" r="4.658"/><circle cx="581.16" cy="879.48" r="4.658"/><circle cx="630.37" cy="909.64" r="4.658"/><circle cx="669.27" cy="983.03" r="4.658"/><circle cx="862.71" cy="782.24" r="4.658"/><circle cx="862.87" cy="782.4" r="4.658"/><circle cx="761.99" cy="810.71" r="4.658"/><circle cx="754.31" cy="822.24" r="4.658"/><circle cx="859.18" cy="845.02" r="4.658"/><circle cx="1004.95" cy="859.63" r="4.658"/><circle cx="780.75" cy="870.71" r="4.658"/><circle cx="789.67" cy="929.18" r="4.658"/><circle cx="1282.19" cy="779.93" r="4.658"/><circle cx="1189.31" cy="936.56" r="4.658"/><circle cx="1503.15" cy="840.71" r="4.658"/><circle cx="1501.92" cy="843.79" r="4.658"/><circle cx="404.18" cy="1042.26" r="4.658"/><circle cx="404.33" cy="1042.42" r="4.658"/><circle cx="675.73" cy="1094.58" r="4.658"/><circle cx="675.89" cy="1094.73" r="4.658"/><circle cx="906.23" cy="1060.88" r="4.658"/><circle cx="919.61" cy="1127.81" r="4.658"/></g>
<g fill="#ece51b" stroke="#ece51b"><circle cx="1481.16" cy="826.09" r="4.658"/></g>
<g fill="#f4e61e" stroke="#f4e61e"><circle cx="1506.54" cy="848.86" r="4.658"/><circle cx="1582.19" cy="835.63" r="4.658"/><circle cx="736.93" cy="1126.58" r="4.658"/><circle cx="1201.15" cy="1035.03" r="4.658"/></g>
<g fill="#fde725" stroke="#fde725"><circle cx="497.57" cy="314.66" r="4.658"/><circle cx="497.41" cy="314.97" r="4.658"/><circle cx="488.49" cy="307.74" r="4.658"/><circle cx="454.67" cy="295.12" r="4.658"/><circle cx="449.59" cy="288.2" r="4.658"/><circle cx="385.47" cy="271.58" r="4.658"/><circle cx="651.18" cy="298.2" r="4.658"/><circle cx="751.44" cy="266.19" r="4.658"/><circle cx="955.33" cy="159.26" r="4.658"/><circle cx="927.35" cy="201.57" r="4.658"/><circle cx="968.4" cy="208.19" r="4.658"/><circle cx="992.7" cy="210.5" r="4.658"/><circle cx="533.09" cy="333.59" r="4.658"/><circle cx="530.01" cy="443.6" r="4.658"/><circle cx="500.8" cy="471.75" r="4.658"/><circle cx="567.38" cy="340.97" r="4.658"/><circle cx="556.61" cy="378.51" r="4.658"/><circle cx="588.9" cy="392.51" r="4.658"/><circle cx="590.44" cy="393.59" r="4.658"/><circle cx="663.48" cy="486.21" r="4.658"/><circle cx="637.34" cy="552.07" r="4.658"/><circle cx="958.1" cy="470.83" r="4.658"/><circle cx="919.66" cy="542.07" r="4.658"/><circle cx="362.66" cy="690.23" r="4.658"/><circle cx="418.79" cy="578.99" r="4.658"/><circle cx="660.35" cy="566.84" r="4.658"/><circle cx="728.78" cy="663.77" r="4.658"/><circle cx="541.65" cy="681" r="4.658"/><circle cx="504.59" cy="735.62" r="4.658"/><circle cx="500.74" cy="757.16" r="4.658"/><circle cx="771.99" cy="578.38" r="4.658"/><circle cx="772.14" cy="578.53" r="4.658"/><circle cx="880.86" cy="596.38" r="4.658"/><circle cx="1012.64" cy="625.3" r="4.658"/><circle cx="755.84" cy="639.92" r="4.658"/><circle cx="947.59" cy="702.85" r="4.658"/><circle cx="905.77" cy="734.85" r="4.658"/><circle cx="1109.36" cy="694.39" r="4.658"/><circle cx="1109.51" cy="694.54" r="4.658"/><circle cx="305" cy="833.78" r="4.658"/><circle cx="403.41" cy="790.7" r="4.658"/><circle cx="383.11" cy="944.26" r="4.658"/><circle cx="395.41" cy="963.8" r="4.658"/><circle cx="395.57" cy="963.95" r="4.658"/><circle cx="673.43" cy="793.32" r="4.658"/><circle cx="518.89" cy="826.09" r="4.658"/><circle cx="559.64" cy="841.17" r="4.658"/><circle cx="502.74" cy="847.32" r="4.658"/><circle cx="501.97" cy="866.09" r="4.658"/><circle cx="546.11" cy="866.86" r="4.658"/><circle cx="585.32" cy="886.87" r="4.658"/><circle cx="561.94" cy="959.49" r="4.658"/><circle cx="616.53" cy="963.8" r="4.658"/><circle cx="668.35" cy="979.95" r="4.658"/><circle cx="971.89" cy="779.16" r="4.658"/><circle cx="930.37" cy="842.25" r="4.658"/><circle cx="836.11" cy="853.79" r="4.658"/><circle cx="930.37" cy="854.09" r="4.658"/><circle cx="918.53" cy="865.79" r="4.658"/><circle cx="986.8" cy="866.4" r="4.658"/><circle cx="964.97" cy="898.87" r="4.658"/><circle cx="998.49" cy="908.41" r="4.658"/><circle cx="833.96" cy="925.33" r="4.658"/><circle cx="926.53" cy="961.03" r="4.658"/><circle cx="926.68" cy="961.18" r="4.658"/><circle cx="941.13" cy="959.49" r="4.658"/><circle cx="1028.78" cy="958.72" r="4.658"/><circle cx="984.5" cy="991.03" r="4.658"/><circle cx="1096.9" cy="904.56" r="4.658"/><circle cx="412.33" cy="1031.65" r="4.658"/><circle cx="416.48" cy="1033.8" r="4.658"/><circle cx="454.31" cy="1004.26" r="4.658"/><circle cx="682.19" cy="1005.03" r="4.658"/><circle cx="597.77" cy="1131.96" r="4.658"/><circle cx="928.06" cy="1063.19" r="4.658"/><circle cx="936.52" cy="1068.88" r="4.658"/><circle cx="917.76" cy="1121.66" r="4.658"/><circle cx="870.09" cy="1247.05" r="4.658"/></g>
</g>
<g filter="url(#nf)" fill-opacity=".75">
<text x="683.93" y="499.1" font-size="17.17" textLength="51.75" lengthAdjust="spacingAndGlyphs">adong</text>
<text x="841.39" y="506.33" font-size="17.17" textLength="45.12" lengthAdjust="spacingAndGlyphs">halak</text>
<text x="958.1" y="470.48" font-size="17.17" textLength="37.25" lengthAdjust="spacingAndGlyphs">hata</text>
<text x="1077.58" y="512.02" font-size="17.17" textLength="39.5" lengthAdjust="spacingAndGlyphs">sada</text>
<text x="919.66" y="546.02" font-size="17.17" textLength="70.62" lengthAdjust="spacingAndGlyphs">bagasan</text>
<text x="328.52" y="655.26" font-size="17.17" textLength="37.62" lengthAdjust="spacingAndGlyphs">huta</text>
<text x="523.19" y="627.26" font-size="17.17" textLength="37.25" lengthAdjust="spacingAndGlyphs">tano</text>
<text x="948.05" y="643.42" font-size="17.17" textLength="29" lengthAdjust="spacingAndGlyphs">asa</text>
<text x="834.27" y="663.73" font-size="17.17" textLength="20.62" lengthAdjust="spacingAndGlyphs">on</text>
<text x="870.09" y="664.8" font-size="17.17" textLength="52.12" lengthAdjust="spacingAndGlyphs">naung</text>
<text x="1034.16" y="656.8" font-size="17.17" textLength="38" lengthAdjust="spacingAndGlyphs">tung</text>
<text x="830.88" y="690.34" font-size="17.17" textLength="20.62" lengthAdjust="spacingAndGlyphs">do</text>
<text x="880.4" y="721.12" font-size="17.17" textLength="18.88" lengthAdjust="spacingAndGlyphs">so</text>
<text x="887.32" y="762.66" font-size="17.17" textLength="52.12" lengthAdjust="spacingAndGlyphs">ndang</text>
<text x="732.31" y="663.09" font-size="17.17" textLength="47.75" lengthAdjust="spacingAndGlyphs">dohot</text>
<text x="783.61" y="667.9" font-size="17.17" textLength="34" lengthAdjust="spacingAndGlyphs">sian</text>
<text x="774.64" y="670.99" font-size="17.17" textLength="17" lengthAdjust="spacingAndGlyphs">tu</text>
<text x="801.55" y="674.58" font-size="17.17" textLength="15.12" lengthAdjust="spacingAndGlyphs">ni</text>
<text x="723.98" y="683.19" font-size="17.17" textLength="50.75" lengthAdjust="spacingAndGlyphs">angka</text>
<text x="756.34" y="683.19" font-size="17.17" textLength="35.38" lengthAdjust="spacingAndGlyphs">laho</text>
<text x="798.68" y="683.55" font-size="17.17" textLength="20.62" lengthAdjust="spacingAndGlyphs">na</text>
<text x="783.25" y="693.25" font-size="17.17" textLength="26.38" lengthAdjust="spacingAndGlyphs">ma</text>
<text x="819.13" y="696.84" font-size="17.17" textLength="4.62" lengthAdjust="spacingAndGlyphs">i</text>
<text x="805.86" y="702.22" font-size="17.17" textLength="15.12" lengthAdjust="spacingAndGlyphs">di</text>
<text x="788.28" y="708.68" font-size="17.17" textLength="41.38" lengthAdjust="spacingAndGlyphs">gabe</text>
<text x="787.2" y="712.27" font-size="17.17" textLength="29.5" lengthAdjust="spacingAndGlyphs">jala</text>
<text x="741.28" y="704.73" font-size="17.17" textLength="16.62" lengthAdjust="spacingAndGlyphs">ro</text>
<text x="830.83" y="739.7" font-size="17.17" textLength="30.75" lengthAdjust="spacingAndGlyphs">Alai</text>
<text x="843.82" y="739.7" font-size="17.17" textLength="14.75" lengthAdjust="spacingAndGlyphs">ai</text>
<text x="1060.46" y="677.57" font-size="17.17" textLength="68" lengthAdjust="spacingAndGlyphs">manang</text>
<text x="392.95" y="882.98" font-size="17.17" textLength="40.5" lengthAdjust="spacingAndGlyphs">anak</text>
<text x="781.06" y="783.28" font-size="17.17" textLength="50.88" lengthAdjust="spacingAndGlyphs">lading</text>
<text x="781.37" y="783.28" font-size="17.17" textLength="42" lengthAdjust="spacingAndGlyphs">dung</text>
<text x="934.98" y="785.74" font-size="17.17" textLength="60.5" lengthAdjust="spacingAndGlyphs">songon</text>
<text x="852.72" y="844.2" font-size="17.17" textLength="8.38" lengthAdjust="spacingAndGlyphs">*</text>
<text x="1206.54" y="837.74" font-size="17.17" textLength="31.12" lengthAdjust="spacingAndGlyphs">ahu</text>
<text x="1101.97" y="864.67" font-size="17.17" textLength="45.88" lengthAdjust="spacingAndGlyphs">ibana</text>
<text x="1177.32" y="875.75" font-size="17.17" textLength="20.62" lengthAdjust="spacingAndGlyphs">ho</text>
<text x="1258.05" y="900.36" font-size="17.17" textLength="47.38" lengthAdjust="spacingAndGlyphs">hamu</text>
<text x="461.99" y="1037.76" font-size="17.17" textLength="13.38" lengthAdjust="spacingAndGlyphs">si</text>
<text x="726.17" y="1100.84" font-size="17.17" textLength="55.38" lengthAdjust="spacingAndGlyphs">ingkon</text>
<text x="1033.09" y="1120.08" font-size="17.17" textLength="59.38" lengthAdjust="spacingAndGlyphs">Jahowa</text>
<text x="1038.62" y="1119.61" font-size="17.17" textLength="64.75" lengthAdjust="spacingAndGlyphs">Jahowa,</text>
<text x="1044.31" y="1008.99" font-size="17.17" textLength="46.25" lengthAdjust="spacingAndGlyphs">ninna</text>
<text x="1196.54" y="1030.84" font-size="17.17" textLength="54.62" lengthAdjust="spacingAndGlyphs">nasida</text>
</g>
<rect x="990.5" y="173.5" width="7" height="14" fill="none" stroke="#262626" stroke-opacity=".85" stroke-width="1"/>
<g fill="#d4d4d4"><rect x="91" y="53" width="2" height="1355"/><rect x="1673" y="53" width="2" height="1355"/><rect x="91" y="53" width="1584" height="2"/><rect x="91" y="1406" width="1584" height="2"/></g>
<g opacity=".999">
<text x="268.2" y="1437.67" font-size="21.46" textLength="34" lengthAdjust="spacingAndGlyphs">-40</text>
<text x="504.95" y="1437.67" font-size="21.46" textLength="34" lengthAdjust="spacingAndGlyphs">-20</text>
<text x="752.08" y="1437.67" font-size="21.46" textLength="13.25" lengthAdjust="spacingAndGlyphs">0</text>
<text x="982.2" y="1437.67" font-size="21.46" textLength="26.5" lengthAdjust="spacingAndGlyphs">20</text>
<text x="1218.95" y="1437.67" font-size="21.46" textLength="26.5" lengthAdjust="spacingAndGlyphs">40</text>
<text x="1455.64" y="1437.67" font-size="21.46" textLength="26.62" lengthAdjust="spacingAndGlyphs">60</text>
<text x="43.33" y="1360.06" font-size="21.46" textLength="34.12" lengthAdjust="spacingAndGlyphs">-60</text>
<text x="43.46" y="1155.97" font-size="21.46" textLength="34" lengthAdjust="spacingAndGlyphs">-40</text>
<text x="43.46" y="951.89" font-size="21.46" textLength="34" lengthAdjust="spacingAndGlyphs">-20</text>
<text x="64.21" y="747.8" font-size="21.46" textLength="13.25" lengthAdjust="spacingAndGlyphs">0</text>
<text x="50.96" y="543.71" font-size="21.46" textLength="26.5" lengthAdjust="spacingAndGlyphs">20</text>
<text x="50.96" y="339.62" font-size="21.46" textLength="26.5" lengthAdjust="spacingAndGlyphs">40</text>
<text x="50.83" y="135.53" font-size="21.46" textLength="26.62" lengthAdjust="spacingAndGlyphs">60</text>
<text y="41" font-size="34.33" font-weight="bold"><tspan x="373.23" textLength="104.75" lengthAdjust="spacingAndGlyphs">t-SNE</tspan> <tspan x="489.6" textLength="241.38" lengthAdjust="spacingAndGlyphs">Visualization</tspan> <tspan x="742.6" textLength="37.38" lengthAdjust="spacingAndGlyphs">of</tspan> <tspan x="791.6" textLength="98.75" lengthAdjust="spacingAndGlyphs">Word</tspan> <tspan x="901.98" textLength="230.75" lengthAdjust="spacingAndGlyphs">Embeddings</tspan> <tspan x="1144.35" textLength="108.12" lengthAdjust="spacingAndGlyphs">(2000</tspan> <tspan x="1264.1" textLength="129.12" lengthAdjust="spacingAndGlyphs">words)</tspan></text>
<text y="1466" font-size="21.46"><tspan x="785.85" textLength="57.5" lengthAdjust="spacingAndGlyphs">t-SNE</tspan> <tspan x="849.98" textLength="110.75" lengthAdjust="spacingAndGlyphs">Dimension</tspan> <tspan x="967.35" textLength="13.25" lengthAdjust="spacingAndGlyphs">1</tspan></text>
<text transform="translate(31 827.67) rotate(-90)" y="0" font-size="21.46"><tspan x="0" textLength="57.5" lengthAdjust="spacingAndGlyphs">t-SNE</tspan> <tspan x="64.12" textLength="110.75" lengthAdjust="spacingAndGlyphs">Dimension</tspan> <tspan x="181.5" textLength="13.25" lengthAdjust="spacingAndGlyphs">2</tspan></text>
<rect x="1773.31" y="53.5" width="67.68" height="1353.58" fill="url(#vg)"/>
<g fill="#d4d4d4"><rect x="1772" y="53" width="1" height="1355"/><rect x="1841" y="53" width="1" height="1355"/><rect x="1773" y="53" width="1" height="1355" fill-opacity=".75"/><rect x="1840" y="53" width="1" height="1355" fill-opacity=".75"/><rect x="1772" y="53" width="70" height="1"/><rect x="1772" y="1407" width="70" height="1"/><rect x="1772" y="54" width="70" height="1" fill-opacity=".75"/><rect x="1772" y="1406" width="70" height="1" fill-opacity=".75"/></g>
<g fill="#4a4a4a"><rect x="1841.6" y="1406" width="6.4" height="2"/><rect x="1841.6" y="1237" width="6.4" height="2"/><rect x="1841.6" y="1068" width="6.4" height="2"/><rect x="1841.6" y="898" width="6.4" height="2"/><rect x="1841.6" y="729" width="6.4" height="2"/><rect x="1841.6" y="560" width="6.4" height="2"/><rect x="1841.6" y="390" width="6.4" height="2"/><rect x="1841.6" y="221" width="6.4" height="2"/></g>
<text x="1855.57" y="1415.08" font-size="21.46" textLength="13.25" lengthAdjust="spacingAndGlyphs">0</text>
<text x="1855.57" y="1245.8" font-size="21.46" textLength="39.75" lengthAdjust="spacingAndGlyphs">250</text>
<text x="1855.57" y="1076.52" font-size="21.46" textLength="39.75" lengthAdjust="spacingAndGlyphs">500</text>
<text x="1855.57" y="907.24" font-size="21.46" textLength="39.75" lengthAdjust="spacingAndGlyphs">750</text>
<text x="1855.57" y="737.95" font-size="21.46" textLength="53" lengthAdjust="spacingAndGlyphs">1000</text>
<text x="1855.57" y="568.67" font-size="21.46" textLength="53" lengthAdjust="spacingAndGlyphs">1250</text>
<text x="1855.57" y="399.39" font-size="21.46" textLength="53" lengthAdjust="spacingAndGlyphs">1500</text>
<text x="1855.57" y="230.11" font-size="21.46" textLength="53" lengthAdjust="spacingAndGlyphs">1750</text>
<text transform="translate(1932.9 866.17) rotate(-90)" y="0" font-size="21.46"><tspan x="0" textLength="53.62" lengthAdjust="spacingAndGlyphs">Word</tspan> <tspan x="60.25" textLength="51.75" lengthAdjust="spacingAndGlyphs">Rank</tspan> <tspan x="118.62" textLength="33.75" lengthAdjust="spacingAndGlyphs">(by</tspan> <tspan x="159" textLength="112.75" lengthAdjust="spacingAndGlyphs">frequency)</tspan></text>
</g>
</svg></body></html>
